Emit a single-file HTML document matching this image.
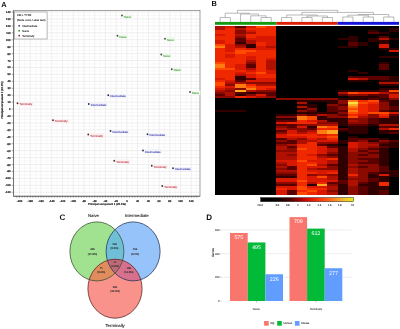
<!DOCTYPE html>
<html><head><meta charset="utf-8"><title>Figure</title><style>html,body{margin:0;padding:0;background:#fff;width:400px;height:329px;overflow:hidden}svg text{font-family:"Liberation Sans",sans-serif;text-rendering:geometricPrecision}</style></head><body>
<svg width="400" height="329" viewBox="0 0 400 329" style="filter:blur(0.4px);display:block;font-family:'Liberation Sans', sans-serif"><text x="1.20" y="6.60" font-size="7.4" fill="#111" text-anchor="start" font-weight="bold" >A</text>
<g stroke="#f3f3f3" stroke-width="0.6"><line x1="13.5" y1="195.72" x2="200.0" y2="195.72"/><line x1="13.5" y1="188.79" x2="200.0" y2="188.79"/><line x1="13.5" y1="181.86" x2="200.0" y2="181.86"/><line x1="13.5" y1="174.92" x2="200.0" y2="174.92"/><line x1="13.5" y1="167.99" x2="200.0" y2="167.99"/><line x1="13.5" y1="161.06" x2="200.0" y2="161.06"/><line x1="13.5" y1="154.12" x2="200.0" y2="154.12"/><line x1="13.5" y1="147.19" x2="200.0" y2="147.19"/><line x1="13.5" y1="140.26" x2="200.0" y2="140.26"/><line x1="13.5" y1="133.33" x2="200.0" y2="133.33"/><line x1="13.5" y1="126.39" x2="200.0" y2="126.39"/><line x1="13.5" y1="119.46" x2="200.0" y2="119.46"/><line x1="13.5" y1="112.53" x2="200.0" y2="112.53"/><line x1="13.5" y1="105.59" x2="200.0" y2="105.59"/><line x1="13.5" y1="98.66" x2="200.0" y2="98.66"/><line x1="13.5" y1="91.73" x2="200.0" y2="91.73"/><line x1="13.5" y1="84.79" x2="200.0" y2="84.79"/><line x1="13.5" y1="77.86" x2="200.0" y2="77.86"/><line x1="13.5" y1="70.93" x2="200.0" y2="70.93"/><line x1="13.5" y1="64.00" x2="200.0" y2="64.00"/><line x1="13.5" y1="57.06" x2="200.0" y2="57.06"/><line x1="13.5" y1="50.13" x2="200.0" y2="50.13"/><line x1="13.5" y1="43.20" x2="200.0" y2="43.20"/><line x1="13.5" y1="36.26" x2="200.0" y2="36.26"/><line x1="13.5" y1="29.33" x2="200.0" y2="29.33"/><line x1="13.5" y1="22.40" x2="200.0" y2="22.40"/><line x1="13.5" y1="15.46" x2="200.0" y2="15.46"/><line x1="14.13" y1="10.5" x2="14.13" y2="196.25"/><line x1="24.87" y1="10.5" x2="24.87" y2="196.25"/><line x1="35.61" y1="10.5" x2="35.61" y2="196.25"/><line x1="46.35" y1="10.5" x2="46.35" y2="196.25"/><line x1="57.09" y1="10.5" x2="57.09" y2="196.25"/><line x1="67.83" y1="10.5" x2="67.83" y2="196.25"/><line x1="78.57" y1="10.5" x2="78.57" y2="196.25"/><line x1="89.31" y1="10.5" x2="89.31" y2="196.25"/><line x1="100.05" y1="10.5" x2="100.05" y2="196.25"/><line x1="110.79" y1="10.5" x2="110.79" y2="196.25"/><line x1="121.53" y1="10.5" x2="121.53" y2="196.25"/><line x1="132.27" y1="10.5" x2="132.27" y2="196.25"/><line x1="143.01" y1="10.5" x2="143.01" y2="196.25"/><line x1="153.75" y1="10.5" x2="153.75" y2="196.25"/><line x1="164.49" y1="10.5" x2="164.49" y2="196.25"/><line x1="175.23" y1="10.5" x2="175.23" y2="196.25"/><line x1="185.97" y1="10.5" x2="185.97" y2="196.25"/><line x1="196.71" y1="10.5" x2="196.71" y2="196.25"/></g>
<g stroke="#e4e4e4" stroke-width="0.6"><line x1="13.5" y1="192.26" x2="200.0" y2="192.26"/><line x1="13.5" y1="185.32" x2="200.0" y2="185.32"/><line x1="13.5" y1="178.39" x2="200.0" y2="178.39"/><line x1="13.5" y1="171.46" x2="200.0" y2="171.46"/><line x1="13.5" y1="164.52" x2="200.0" y2="164.52"/><line x1="13.5" y1="157.59" x2="200.0" y2="157.59"/><line x1="13.5" y1="150.66" x2="200.0" y2="150.66"/><line x1="13.5" y1="143.72" x2="200.0" y2="143.72"/><line x1="13.5" y1="136.79" x2="200.0" y2="136.79"/><line x1="13.5" y1="129.86" x2="200.0" y2="129.86"/><line x1="13.5" y1="122.93" x2="200.0" y2="122.93"/><line x1="13.5" y1="115.99" x2="200.0" y2="115.99"/><line x1="13.5" y1="109.06" x2="200.0" y2="109.06"/><line x1="13.5" y1="102.13" x2="200.0" y2="102.13"/><line x1="13.5" y1="95.19" x2="200.0" y2="95.19"/><line x1="13.5" y1="88.26" x2="200.0" y2="88.26"/><line x1="13.5" y1="81.33" x2="200.0" y2="81.33"/><line x1="13.5" y1="74.40" x2="200.0" y2="74.40"/><line x1="13.5" y1="67.46" x2="200.0" y2="67.46"/><line x1="13.5" y1="60.53" x2="200.0" y2="60.53"/><line x1="13.5" y1="53.60" x2="200.0" y2="53.60"/><line x1="13.5" y1="46.66" x2="200.0" y2="46.66"/><line x1="13.5" y1="39.73" x2="200.0" y2="39.73"/><line x1="13.5" y1="32.80" x2="200.0" y2="32.80"/><line x1="13.5" y1="25.86" x2="200.0" y2="25.86"/><line x1="13.5" y1="18.93" x2="200.0" y2="18.93"/><line x1="13.5" y1="12.00" x2="200.0" y2="12.00"/><line x1="19.50" y1="10.5" x2="19.50" y2="196.25"/><line x1="30.24" y1="10.5" x2="30.24" y2="196.25"/><line x1="40.98" y1="10.5" x2="40.98" y2="196.25"/><line x1="51.72" y1="10.5" x2="51.72" y2="196.25"/><line x1="62.46" y1="10.5" x2="62.46" y2="196.25"/><line x1="73.20" y1="10.5" x2="73.20" y2="196.25"/><line x1="83.94" y1="10.5" x2="83.94" y2="196.25"/><line x1="94.68" y1="10.5" x2="94.68" y2="196.25"/><line x1="105.42" y1="10.5" x2="105.42" y2="196.25"/><line x1="116.16" y1="10.5" x2="116.16" y2="196.25"/><line x1="126.90" y1="10.5" x2="126.90" y2="196.25"/><line x1="137.64" y1="10.5" x2="137.64" y2="196.25"/><line x1="148.38" y1="10.5" x2="148.38" y2="196.25"/><line x1="159.12" y1="10.5" x2="159.12" y2="196.25"/><line x1="169.86" y1="10.5" x2="169.86" y2="196.25"/><line x1="180.60" y1="10.5" x2="180.60" y2="196.25"/><line x1="191.34" y1="10.5" x2="191.34" y2="196.25"/></g>
<rect x="13.5" y="10.5" width="186.5" height="185.75" fill="none" stroke="#8a8a8a" stroke-width="0.8"/>
<line x1="13.5" y1="10.5" x2="13.5" y2="196.25" stroke="#6a6a6a" stroke-width="0.8"/>
<line x1="13.5" y1="196.25" x2="200.0" y2="196.25" stroke="#5a5a5a" stroke-width="0.8"/>
<g stroke="#555" stroke-width="0.5"><line x1="11.7" y1="192.26" x2="13.5" y2="192.26"/><line x1="11.7" y1="185.32" x2="13.5" y2="185.32"/><line x1="11.7" y1="178.39" x2="13.5" y2="178.39"/><line x1="11.7" y1="171.46" x2="13.5" y2="171.46"/><line x1="11.7" y1="164.52" x2="13.5" y2="164.52"/><line x1="11.7" y1="157.59" x2="13.5" y2="157.59"/><line x1="11.7" y1="150.66" x2="13.5" y2="150.66"/><line x1="11.7" y1="143.72" x2="13.5" y2="143.72"/><line x1="11.7" y1="136.79" x2="13.5" y2="136.79"/><line x1="11.7" y1="129.86" x2="13.5" y2="129.86"/><line x1="11.7" y1="122.93" x2="13.5" y2="122.93"/><line x1="11.7" y1="115.99" x2="13.5" y2="115.99"/><line x1="11.7" y1="109.06" x2="13.5" y2="109.06"/><line x1="11.7" y1="102.13" x2="13.5" y2="102.13"/><line x1="11.7" y1="95.19" x2="13.5" y2="95.19"/><line x1="11.7" y1="88.26" x2="13.5" y2="88.26"/><line x1="11.7" y1="81.33" x2="13.5" y2="81.33"/><line x1="11.7" y1="74.40" x2="13.5" y2="74.40"/><line x1="11.7" y1="67.46" x2="13.5" y2="67.46"/><line x1="11.7" y1="60.53" x2="13.5" y2="60.53"/><line x1="11.7" y1="53.60" x2="13.5" y2="53.60"/><line x1="11.7" y1="46.66" x2="13.5" y2="46.66"/><line x1="11.7" y1="39.73" x2="13.5" y2="39.73"/><line x1="11.7" y1="32.80" x2="13.5" y2="32.80"/><line x1="11.7" y1="25.86" x2="13.5" y2="25.86"/><line x1="11.7" y1="18.93" x2="13.5" y2="18.93"/><line x1="11.7" y1="12.00" x2="13.5" y2="12.00"/><line x1="16.81" y1="196.25" x2="16.81" y2="197.85"/><line x1="19.50" y1="196.25" x2="19.50" y2="197.85"/><line x1="22.19" y1="196.25" x2="22.19" y2="197.85"/><line x1="24.87" y1="196.25" x2="24.87" y2="197.85"/><line x1="27.55" y1="196.25" x2="27.55" y2="197.85"/><line x1="30.24" y1="196.25" x2="30.24" y2="197.85"/><line x1="32.92" y1="196.25" x2="32.92" y2="197.85"/><line x1="35.61" y1="196.25" x2="35.61" y2="197.85"/><line x1="38.30" y1="196.25" x2="38.30" y2="197.85"/><line x1="40.98" y1="196.25" x2="40.98" y2="197.85"/><line x1="43.67" y1="196.25" x2="43.67" y2="197.85"/><line x1="46.35" y1="196.25" x2="46.35" y2="197.85"/><line x1="49.03" y1="196.25" x2="49.03" y2="197.85"/><line x1="51.72" y1="196.25" x2="51.72" y2="197.85"/><line x1="54.41" y1="196.25" x2="54.41" y2="197.85"/><line x1="57.09" y1="196.25" x2="57.09" y2="197.85"/><line x1="59.78" y1="196.25" x2="59.78" y2="197.85"/><line x1="62.46" y1="196.25" x2="62.46" y2="197.85"/><line x1="65.15" y1="196.25" x2="65.15" y2="197.85"/><line x1="67.83" y1="196.25" x2="67.83" y2="197.85"/><line x1="70.52" y1="196.25" x2="70.52" y2="197.85"/><line x1="73.20" y1="196.25" x2="73.20" y2="197.85"/><line x1="75.89" y1="196.25" x2="75.89" y2="197.85"/><line x1="78.57" y1="196.25" x2="78.57" y2="197.85"/><line x1="81.25" y1="196.25" x2="81.25" y2="197.85"/><line x1="83.94" y1="196.25" x2="83.94" y2="197.85"/><line x1="86.62" y1="196.25" x2="86.62" y2="197.85"/><line x1="89.31" y1="196.25" x2="89.31" y2="197.85"/><line x1="92.00" y1="196.25" x2="92.00" y2="197.85"/><line x1="94.68" y1="196.25" x2="94.68" y2="197.85"/><line x1="97.37" y1="196.25" x2="97.37" y2="197.85"/><line x1="100.05" y1="196.25" x2="100.05" y2="197.85"/><line x1="102.73" y1="196.25" x2="102.73" y2="197.85"/><line x1="105.42" y1="196.25" x2="105.42" y2="197.85"/><line x1="108.11" y1="196.25" x2="108.11" y2="197.85"/><line x1="110.79" y1="196.25" x2="110.79" y2="197.85"/><line x1="113.48" y1="196.25" x2="113.48" y2="197.85"/><line x1="116.16" y1="196.25" x2="116.16" y2="197.85"/><line x1="118.84" y1="196.25" x2="118.84" y2="197.85"/><line x1="121.53" y1="196.25" x2="121.53" y2="197.85"/><line x1="124.22" y1="196.25" x2="124.22" y2="197.85"/><line x1="126.90" y1="196.25" x2="126.90" y2="197.85"/><line x1="129.59" y1="196.25" x2="129.59" y2="197.85"/><line x1="132.27" y1="196.25" x2="132.27" y2="197.85"/><line x1="134.96" y1="196.25" x2="134.96" y2="197.85"/><line x1="137.64" y1="196.25" x2="137.64" y2="197.85"/><line x1="140.33" y1="196.25" x2="140.33" y2="197.85"/><line x1="143.01" y1="196.25" x2="143.01" y2="197.85"/><line x1="145.69" y1="196.25" x2="145.69" y2="197.85"/><line x1="148.38" y1="196.25" x2="148.38" y2="197.85"/><line x1="151.06" y1="196.25" x2="151.06" y2="197.85"/><line x1="153.75" y1="196.25" x2="153.75" y2="197.85"/><line x1="156.44" y1="196.25" x2="156.44" y2="197.85"/><line x1="159.12" y1="196.25" x2="159.12" y2="197.85"/><line x1="161.81" y1="196.25" x2="161.81" y2="197.85"/><line x1="164.49" y1="196.25" x2="164.49" y2="197.85"/><line x1="167.18" y1="196.25" x2="167.18" y2="197.85"/><line x1="169.86" y1="196.25" x2="169.86" y2="197.85"/><line x1="172.55" y1="196.25" x2="172.55" y2="197.85"/><line x1="175.23" y1="196.25" x2="175.23" y2="197.85"/><line x1="177.92" y1="196.25" x2="177.92" y2="197.85"/><line x1="180.60" y1="196.25" x2="180.60" y2="197.85"/><line x1="183.29" y1="196.25" x2="183.29" y2="197.85"/><line x1="185.97" y1="196.25" x2="185.97" y2="197.85"/><line x1="188.66" y1="196.25" x2="188.66" y2="197.85"/><line x1="191.34" y1="196.25" x2="191.34" y2="197.85"/><line x1="194.03" y1="196.25" x2="194.03" y2="197.85"/><line x1="196.71" y1="196.25" x2="196.71" y2="197.85"/></g>
<text x="10.60" y="193.26" font-size="2.7" fill="#2a2a2a" text-anchor="end" font-weight="normal" stroke="#2a2a2a" stroke-width="0.22" >-120</text><text x="10.60" y="186.32" font-size="2.7" fill="#2a2a2a" text-anchor="end" font-weight="normal" stroke="#2a2a2a" stroke-width="0.22" >-110</text><text x="10.60" y="179.39" font-size="2.7" fill="#2a2a2a" text-anchor="end" font-weight="normal" stroke="#2a2a2a" stroke-width="0.22" >-100</text><text x="10.60" y="172.46" font-size="2.7" fill="#2a2a2a" text-anchor="end" font-weight="normal" stroke="#2a2a2a" stroke-width="0.22" >-90</text><text x="10.60" y="165.52" font-size="2.7" fill="#2a2a2a" text-anchor="end" font-weight="normal" stroke="#2a2a2a" stroke-width="0.22" >-80</text><text x="10.60" y="158.59" font-size="2.7" fill="#2a2a2a" text-anchor="end" font-weight="normal" stroke="#2a2a2a" stroke-width="0.22" >-70</text><text x="10.60" y="151.66" font-size="2.7" fill="#2a2a2a" text-anchor="end" font-weight="normal" stroke="#2a2a2a" stroke-width="0.22" >-60</text><text x="10.60" y="144.72" font-size="2.7" fill="#2a2a2a" text-anchor="end" font-weight="normal" stroke="#2a2a2a" stroke-width="0.22" >-50</text><text x="10.60" y="137.79" font-size="2.7" fill="#2a2a2a" text-anchor="end" font-weight="normal" stroke="#2a2a2a" stroke-width="0.22" >-40</text><text x="10.60" y="130.86" font-size="2.7" fill="#2a2a2a" text-anchor="end" font-weight="normal" stroke="#2a2a2a" stroke-width="0.22" >-30</text><text x="10.60" y="123.93" font-size="2.7" fill="#2a2a2a" text-anchor="end" font-weight="normal" stroke="#2a2a2a" stroke-width="0.22" >-20</text><text x="10.60" y="116.99" font-size="2.7" fill="#2a2a2a" text-anchor="end" font-weight="normal" stroke="#2a2a2a" stroke-width="0.22" >-10</text><text x="10.60" y="110.06" font-size="2.7" fill="#2a2a2a" text-anchor="end" font-weight="normal" stroke="#2a2a2a" stroke-width="0.22" >0</text><text x="10.60" y="103.13" font-size="2.7" fill="#2a2a2a" text-anchor="end" font-weight="normal" stroke="#2a2a2a" stroke-width="0.22" >10</text><text x="10.60" y="96.19" font-size="2.7" fill="#2a2a2a" text-anchor="end" font-weight="normal" stroke="#2a2a2a" stroke-width="0.22" >20</text><text x="10.60" y="89.26" font-size="2.7" fill="#2a2a2a" text-anchor="end" font-weight="normal" stroke="#2a2a2a" stroke-width="0.22" >30</text><text x="10.60" y="82.33" font-size="2.7" fill="#2a2a2a" text-anchor="end" font-weight="normal" stroke="#2a2a2a" stroke-width="0.22" >40</text><text x="10.60" y="75.40" font-size="2.7" fill="#2a2a2a" text-anchor="end" font-weight="normal" stroke="#2a2a2a" stroke-width="0.22" >50</text><text x="10.60" y="68.46" font-size="2.7" fill="#2a2a2a" text-anchor="end" font-weight="normal" stroke="#2a2a2a" stroke-width="0.22" >60</text><text x="10.60" y="61.53" font-size="2.7" fill="#2a2a2a" text-anchor="end" font-weight="normal" stroke="#2a2a2a" stroke-width="0.22" >70</text><text x="10.60" y="54.60" font-size="2.7" fill="#2a2a2a" text-anchor="end" font-weight="normal" stroke="#2a2a2a" stroke-width="0.22" >80</text><text x="10.60" y="47.66" font-size="2.7" fill="#2a2a2a" text-anchor="end" font-weight="normal" stroke="#2a2a2a" stroke-width="0.22" >90</text><text x="10.60" y="40.73" font-size="2.7" fill="#2a2a2a" text-anchor="end" font-weight="normal" stroke="#2a2a2a" stroke-width="0.22" >100</text><text x="10.60" y="33.80" font-size="2.7" fill="#2a2a2a" text-anchor="end" font-weight="normal" stroke="#2a2a2a" stroke-width="0.22" >110</text><text x="10.60" y="26.86" font-size="2.7" fill="#2a2a2a" text-anchor="end" font-weight="normal" stroke="#2a2a2a" stroke-width="0.22" >120</text><text x="10.60" y="19.93" font-size="2.7" fill="#2a2a2a" text-anchor="end" font-weight="normal" stroke="#2a2a2a" stroke-width="0.22" >130</text><text x="10.60" y="13.00" font-size="2.7" fill="#2a2a2a" text-anchor="end" font-weight="normal" stroke="#2a2a2a" stroke-width="0.22" >140</text><text x="19.50" y="201.80" font-size="2.7" fill="#2a2a2a" text-anchor="middle" font-weight="normal" stroke="#2a2a2a" stroke-width="0.22" >-200</text><text x="30.24" y="201.80" font-size="2.7" fill="#2a2a2a" text-anchor="middle" font-weight="normal" stroke="#2a2a2a" stroke-width="0.22" >-180</text><text x="40.98" y="201.80" font-size="2.7" fill="#2a2a2a" text-anchor="middle" font-weight="normal" stroke="#2a2a2a" stroke-width="0.22" >-160</text><text x="51.72" y="201.80" font-size="2.7" fill="#2a2a2a" text-anchor="middle" font-weight="normal" stroke="#2a2a2a" stroke-width="0.22" >-140</text><text x="62.46" y="201.80" font-size="2.7" fill="#2a2a2a" text-anchor="middle" font-weight="normal" stroke="#2a2a2a" stroke-width="0.22" >-120</text><text x="73.20" y="201.80" font-size="2.7" fill="#2a2a2a" text-anchor="middle" font-weight="normal" stroke="#2a2a2a" stroke-width="0.22" >-100</text><text x="83.94" y="201.80" font-size="2.7" fill="#2a2a2a" text-anchor="middle" font-weight="normal" stroke="#2a2a2a" stroke-width="0.22" >-80</text><text x="94.68" y="201.80" font-size="2.7" fill="#2a2a2a" text-anchor="middle" font-weight="normal" stroke="#2a2a2a" stroke-width="0.22" >-60</text><text x="105.42" y="201.80" font-size="2.7" fill="#2a2a2a" text-anchor="middle" font-weight="normal" stroke="#2a2a2a" stroke-width="0.22" >-40</text><text x="116.16" y="201.80" font-size="2.7" fill="#2a2a2a" text-anchor="middle" font-weight="normal" stroke="#2a2a2a" stroke-width="0.22" >-20</text><text x="126.90" y="201.80" font-size="2.7" fill="#2a2a2a" text-anchor="middle" font-weight="normal" stroke="#2a2a2a" stroke-width="0.22" >0</text><text x="137.64" y="201.80" font-size="2.7" fill="#2a2a2a" text-anchor="middle" font-weight="normal" stroke="#2a2a2a" stroke-width="0.22" >20</text><text x="148.38" y="201.80" font-size="2.7" fill="#2a2a2a" text-anchor="middle" font-weight="normal" stroke="#2a2a2a" stroke-width="0.22" >40</text><text x="159.12" y="201.80" font-size="2.7" fill="#2a2a2a" text-anchor="middle" font-weight="normal" stroke="#2a2a2a" stroke-width="0.22" >60</text><text x="169.86" y="201.80" font-size="2.7" fill="#2a2a2a" text-anchor="middle" font-weight="normal" stroke="#2a2a2a" stroke-width="0.22" >80</text><text x="180.60" y="201.80" font-size="2.7" fill="#2a2a2a" text-anchor="middle" font-weight="normal" stroke="#2a2a2a" stroke-width="0.22" >100</text><text x="191.34" y="201.80" font-size="2.7" fill="#2a2a2a" text-anchor="middle" font-weight="normal" stroke="#2a2a2a" stroke-width="0.22" >120</text>
<text x="107.00" y="205.40" font-size="2.75" fill="#222" text-anchor="middle" font-weight="normal" stroke="#222" stroke-width="0.18" >Principal component 1 (25.1%)</text>
<text x="0" y="0" font-size="2.75" fill="#222" stroke="#222" stroke-width="0.18" text-anchor="middle" transform="translate(2.5,100.1) rotate(-90)">Principal component 2 (15.2%)</text>
<rect x="14.6" y="12.0" width="32.5" height="27.0" fill="#fff" stroke="#9a9a9a" stroke-width="0.7"/>
<text x="16.90" y="16.30" font-size="2.7" fill="#333" text-anchor="start" font-weight="normal" stroke="#333" stroke-width="0.1" >CELL TYPE</text>
<text x="16.90" y="21.00" font-size="2.75" fill="#333" text-anchor="start" font-weight="normal" stroke="#333" stroke-width="0.1" >(Node color, Label text)</text>
<circle cx="19.2" cy="25.80" r="0.9" fill="#2b2b8a"/>
<text x="22.20" y="26.80" font-size="2.7" fill="#333" text-anchor="start" font-weight="normal" stroke="#333" stroke-width="0.1" >Intermediate</text>
<circle cx="19.2" cy="30.75" r="0.9" fill="#3a8a3a"/>
<text x="22.20" y="31.75" font-size="2.7" fill="#333" text-anchor="start" font-weight="normal" stroke="#333" stroke-width="0.1" >Naive</text>
<circle cx="19.2" cy="35.70" r="0.9" fill="#8a2b2b"/>
<text x="22.20" y="36.70" font-size="2.7" fill="#333" text-anchor="start" font-weight="normal" stroke="#333" stroke-width="0.1" >Terminally</text>
<rect x="123.20" y="14.20" width="9.20" height="4.0" fill="#eef9ea"/>
<circle cx="122" cy="15.5" r="0.9" fill="#3a4a3a"/>
<text x="124.00" y="17.50" font-size="2.8" fill="#62a85c" text-anchor="start" font-weight="normal" stroke="#62a85c" stroke-width="0.1" >Naive</text>
<rect x="118.70" y="34.45" width="9.20" height="4.0" fill="#eef9ea"/>
<circle cx="117.5" cy="35.75" r="0.9" fill="#3a4a3a"/>
<text x="119.50" y="37.75" font-size="2.8" fill="#62a85c" text-anchor="start" font-weight="normal" stroke="#62a85c" stroke-width="0.1" >Naive</text>
<rect x="166.20" y="37.45" width="9.20" height="4.0" fill="#eef9ea"/>
<circle cx="165" cy="38.75" r="0.9" fill="#3a4a3a"/>
<text x="167.00" y="40.75" font-size="2.8" fill="#62a85c" text-anchor="start" font-weight="normal" stroke="#62a85c" stroke-width="0.1" >Naive</text>
<rect x="162.45" y="53.20" width="9.20" height="4.0" fill="#eef9ea"/>
<circle cx="161.25" cy="54.5" r="0.9" fill="#3a4a3a"/>
<text x="163.25" y="56.50" font-size="2.8" fill="#62a85c" text-anchor="start" font-weight="normal" stroke="#62a85c" stroke-width="0.1" >Naive</text>
<rect x="172.95" y="67.95" width="9.20" height="4.0" fill="#eef9ea"/>
<circle cx="171.75" cy="69.25" r="0.9" fill="#3a4a3a"/>
<text x="173.75" y="71.25" font-size="2.8" fill="#62a85c" text-anchor="start" font-weight="normal" stroke="#62a85c" stroke-width="0.1" >Naive</text>
<rect x="191.20" y="90.70" width="9.20" height="4.0" fill="#eef9ea"/>
<circle cx="190" cy="92" r="0.9" fill="#3a4a3a"/>
<text x="192.00" y="94.00" font-size="2.8" fill="#62a85c" text-anchor="start" font-weight="normal" stroke="#62a85c" stroke-width="0.1" >Naive</text>
<rect x="109.45" y="93.95" width="17.60" height="4.0" fill="#f1f1fb"/>
<circle cx="108.25" cy="95.25" r="0.9" fill="#2a2a50"/>
<text x="110.25" y="97.25" font-size="2.8" fill="#4e4eb4" text-anchor="start" font-weight="normal" stroke="#4e4eb4" stroke-width="0.1" >Intermediate</text>
<rect x="89.95" y="102.70" width="17.60" height="4.0" fill="#f1f1fb"/>
<circle cx="88.75" cy="104" r="0.9" fill="#2a2a50"/>
<text x="90.75" y="106.00" font-size="2.8" fill="#4e4eb4" text-anchor="start" font-weight="normal" stroke="#4e4eb4" stroke-width="0.1" >Intermediate</text>
<rect x="111.70" y="129.70" width="17.60" height="4.0" fill="#f1f1fb"/>
<circle cx="110.5" cy="131" r="0.9" fill="#2a2a50"/>
<text x="112.50" y="133.00" font-size="2.8" fill="#4e4eb4" text-anchor="start" font-weight="normal" stroke="#4e4eb4" stroke-width="0.1" >Intermediate</text>
<rect x="148.70" y="132.95" width="17.60" height="4.0" fill="#f1f1fb"/>
<circle cx="147.5" cy="134.25" r="0.9" fill="#2a2a50"/>
<text x="149.50" y="136.25" font-size="2.8" fill="#4e4eb4" text-anchor="start" font-weight="normal" stroke="#4e4eb4" stroke-width="0.1" >Intermediate</text>
<rect x="144.20" y="149.20" width="17.60" height="4.0" fill="#f1f1fb"/>
<circle cx="143" cy="150.5" r="0.9" fill="#2a2a50"/>
<text x="145.00" y="152.50" font-size="2.8" fill="#4e4eb4" text-anchor="start" font-weight="normal" stroke="#4e4eb4" stroke-width="0.1" >Intermediate</text>
<rect x="174.20" y="166.95" width="17.60" height="4.0" fill="#f1f1fb"/>
<circle cx="173" cy="168.25" r="0.9" fill="#2a2a50"/>
<text x="175.00" y="170.25" font-size="2.8" fill="#4e4eb4" text-anchor="start" font-weight="normal" stroke="#4e4eb4" stroke-width="0.1" >Intermediate</text>
<rect x="18.70" y="101.95" width="14.80" height="4.0" fill="#fcefef"/>
<circle cx="17.5" cy="103.25" r="0.9" fill="#502a2a"/>
<text x="19.50" y="105.25" font-size="2.8" fill="#c4505e" text-anchor="start" font-weight="normal" stroke="#c4505e" stroke-width="0.1" >Terminally</text>
<rect x="54.20" y="118.95" width="14.80" height="4.0" fill="#fcefef"/>
<circle cx="53" cy="120.25" r="0.9" fill="#502a2a"/>
<text x="55.00" y="122.25" font-size="2.8" fill="#c4505e" text-anchor="start" font-weight="normal" stroke="#c4505e" stroke-width="0.1" >Terminally</text>
<rect x="89.45" y="133.20" width="14.80" height="4.0" fill="#fcefef"/>
<circle cx="88.25" cy="134.5" r="0.9" fill="#502a2a"/>
<text x="90.25" y="136.50" font-size="2.8" fill="#c4505e" text-anchor="start" font-weight="normal" stroke="#c4505e" stroke-width="0.1" >Terminally</text>
<rect x="115.45" y="159.45" width="14.80" height="4.0" fill="#fcefef"/>
<circle cx="114.25" cy="160.75" r="0.9" fill="#502a2a"/>
<text x="116.25" y="162.75" font-size="2.8" fill="#c4505e" text-anchor="start" font-weight="normal" stroke="#c4505e" stroke-width="0.1" >Terminally</text>
<rect x="152.95" y="164.45" width="14.80" height="4.0" fill="#fcefef"/>
<circle cx="151.75" cy="165.75" r="0.9" fill="#502a2a"/>
<text x="153.75" y="167.75" font-size="2.8" fill="#c4505e" text-anchor="start" font-weight="normal" stroke="#c4505e" stroke-width="0.1" >Terminally</text>
<rect x="163.45" y="184.70" width="14.80" height="4.0" fill="#fcefef"/>
<circle cx="162.25" cy="186" r="0.9" fill="#502a2a"/>
<text x="164.25" y="188.00" font-size="2.8" fill="#c4505e" text-anchor="start" font-weight="normal" stroke="#c4505e" stroke-width="0.1" >Terminally</text>
<text x="211.50" y="6.10" font-size="7.4" fill="#111" text-anchor="start" font-weight="bold" >B</text>
<g stroke="#8c8c8c" stroke-width="0.6" fill="none"><line x1="220.11" y1="17.50" x2="220.11" y2="21.80"/><line x1="230.33" y1="17.50" x2="230.33" y2="21.80"/><line x1="220.11" y1="17.50" x2="230.33" y2="17.50"/><line x1="261.00" y1="17.50" x2="261.00" y2="21.80"/><line x1="271.22" y1="17.50" x2="271.22" y2="21.80"/><line x1="261.00" y1="17.50" x2="271.22" y2="17.50"/><line x1="250.78" y1="15.80" x2="250.78" y2="21.80"/><line x1="266.11" y1="15.80" x2="266.11" y2="17.50"/><line x1="250.78" y1="15.80" x2="266.11" y2="15.80"/><line x1="240.56" y1="14.00" x2="240.56" y2="21.80"/><line x1="258.44" y1="14.00" x2="258.44" y2="15.80"/><line x1="240.56" y1="14.00" x2="258.44" y2="14.00"/><line x1="225.22" y1="13.20" x2="225.22" y2="17.50"/><line x1="249.50" y1="13.20" x2="249.50" y2="14.00"/><line x1="225.22" y1="13.20" x2="249.50" y2="13.20"/><line x1="281.44" y1="17.50" x2="281.44" y2="21.80"/><line x1="291.67" y1="17.50" x2="291.67" y2="21.80"/><line x1="281.44" y1="17.50" x2="291.67" y2="17.50"/><line x1="301.89" y1="17.50" x2="301.89" y2="21.80"/><line x1="312.11" y1="17.50" x2="312.11" y2="21.80"/><line x1="301.89" y1="17.50" x2="312.11" y2="17.50"/><line x1="322.33" y1="17.50" x2="322.33" y2="21.80"/><line x1="332.56" y1="17.50" x2="332.56" y2="21.80"/><line x1="322.33" y1="17.50" x2="332.56" y2="17.50"/><line x1="307.00" y1="16.00" x2="307.00" y2="17.50"/><line x1="327.44" y1="16.00" x2="327.44" y2="17.50"/><line x1="307.00" y1="16.00" x2="327.44" y2="16.00"/><line x1="286.56" y1="15.00" x2="286.56" y2="17.50"/><line x1="317.22" y1="15.00" x2="317.22" y2="16.00"/><line x1="286.56" y1="15.00" x2="317.22" y2="15.00"/><line x1="342.78" y1="17.00" x2="342.78" y2="21.80"/><line x1="353.00" y1="17.00" x2="353.00" y2="21.80"/><line x1="342.78" y1="17.00" x2="353.00" y2="17.00"/><line x1="363.22" y1="17.00" x2="363.22" y2="21.80"/><line x1="373.44" y1="17.00" x2="373.44" y2="21.80"/><line x1="363.22" y1="17.00" x2="373.44" y2="17.00"/><line x1="383.67" y1="17.00" x2="383.67" y2="21.80"/><line x1="393.89" y1="17.00" x2="393.89" y2="21.80"/><line x1="383.67" y1="17.00" x2="393.89" y2="17.00"/><line x1="347.89" y1="15.20" x2="347.89" y2="17.00"/><line x1="368.33" y1="15.20" x2="368.33" y2="17.00"/><line x1="347.89" y1="15.20" x2="368.33" y2="15.20"/><line x1="358.11" y1="14.50" x2="358.11" y2="15.20"/><line x1="388.78" y1="14.50" x2="388.78" y2="17.00"/><line x1="358.11" y1="14.50" x2="388.78" y2="14.50"/><line x1="301.89" y1="12.40" x2="301.89" y2="15.00"/><line x1="373.44" y1="12.40" x2="373.44" y2="14.50"/><line x1="301.89" y1="12.40" x2="373.44" y2="12.40"/><line x1="237.36" y1="10.30" x2="237.36" y2="13.20"/><line x1="337.67" y1="10.30" x2="337.67" y2="12.40"/><line x1="237.36" y1="10.30" x2="337.67" y2="10.30"/></g>
<rect x="215.0" y="21.9" width="61.33" height="2.9" fill="#169a16"/>
<rect x="276.33" y="21.9" width="61.33" height="2.9" fill="#dc1e0a"/>
<rect x="337.67" y="21.9" width="61.33" height="2.9" fill="#1414dc"/>
<g shape-rendering="crispEdges"><rect x="215.0" y="26.0" width="184.0" height="168.5" fill="#000"/><rect x="215.00" y="26.00" width="10.27" height="2.06" fill="#b01000"/><rect x="225.22" y="26.00" width="10.27" height="2.06" fill="#d81800"/><rect x="235.44" y="26.00" width="10.27" height="2.06" fill="#5a0000"/><rect x="245.67" y="26.00" width="10.27" height="2.06" fill="#d81800"/><rect x="255.89" y="26.00" width="10.27" height="2.06" fill="#ff4a00"/><rect x="266.11" y="26.00" width="10.27" height="2.06" fill="#f02800"/><rect x="215.00" y="28.01" width="10.27" height="2.06" fill="#b01000"/><rect x="225.22" y="28.01" width="10.27" height="2.06" fill="#f02800"/><rect x="235.44" y="28.01" width="10.27" height="2.06" fill="#b01000"/><rect x="245.67" y="28.01" width="10.27" height="2.06" fill="#f02800"/><rect x="255.89" y="28.01" width="10.27" height="2.06" fill="#f02800"/><rect x="266.11" y="28.01" width="10.27" height="2.06" fill="#f02800"/><rect x="388.78" y="28.01" width="10.27" height="2.06" fill="#300000"/><rect x="215.00" y="30.01" width="10.27" height="2.06" fill="#f02800"/><rect x="225.22" y="30.01" width="10.27" height="2.06" fill="#f02800"/><rect x="235.44" y="30.01" width="10.27" height="2.06" fill="#8a0a00"/><rect x="245.67" y="30.01" width="10.27" height="2.06" fill="#d81800"/><rect x="255.89" y="30.01" width="10.27" height="2.06" fill="#f02800"/><rect x="266.11" y="30.01" width="10.27" height="2.06" fill="#f02800"/><rect x="368.33" y="30.01" width="10.27" height="2.06" fill="#300000"/><rect x="388.78" y="30.01" width="10.27" height="2.06" fill="#300000"/><rect x="215.00" y="32.02" width="10.27" height="2.06" fill="#f02800"/><rect x="225.22" y="32.02" width="10.27" height="2.06" fill="#f02800"/><rect x="235.44" y="32.02" width="10.27" height="2.06" fill="#8a0a00"/><rect x="245.67" y="32.02" width="10.27" height="2.06" fill="#b01000"/><rect x="255.89" y="32.02" width="10.27" height="2.06" fill="#f02800"/><rect x="266.11" y="32.02" width="10.27" height="2.06" fill="#f02800"/><rect x="368.33" y="32.02" width="10.27" height="2.06" fill="#5a0000"/><rect x="378.56" y="32.02" width="10.27" height="2.06" fill="#300000"/><rect x="215.00" y="34.02" width="10.27" height="2.06" fill="#d81800"/><rect x="225.22" y="34.02" width="10.27" height="2.06" fill="#f02800"/><rect x="235.44" y="34.02" width="10.27" height="2.06" fill="#b01000"/><rect x="245.67" y="34.02" width="10.27" height="2.06" fill="#f02800"/><rect x="255.89" y="34.02" width="10.27" height="2.06" fill="#f02800"/><rect x="266.11" y="34.02" width="10.27" height="2.06" fill="#f02800"/><rect x="215.00" y="36.03" width="10.27" height="2.06" fill="#f02800"/><rect x="225.22" y="36.03" width="10.27" height="2.06" fill="#f02800"/><rect x="235.44" y="36.03" width="10.27" height="2.06" fill="#8a0a00"/><rect x="245.67" y="36.03" width="10.27" height="2.06" fill="#f02800"/><rect x="255.89" y="36.03" width="10.27" height="2.06" fill="#d81800"/><rect x="266.11" y="36.03" width="10.27" height="2.06" fill="#d81800"/><rect x="347.89" y="36.03" width="10.27" height="2.06" fill="#300000"/><rect x="378.56" y="36.03" width="10.27" height="2.06" fill="#5a0000"/><rect x="215.00" y="38.04" width="10.27" height="2.06" fill="#f02800"/><rect x="225.22" y="38.04" width="10.27" height="2.06" fill="#f02800"/><rect x="235.44" y="38.04" width="10.27" height="2.06" fill="#5a0000"/><rect x="245.67" y="38.04" width="10.27" height="2.06" fill="#d81800"/><rect x="255.89" y="38.04" width="10.27" height="2.06" fill="#d81800"/><rect x="266.11" y="38.04" width="10.27" height="2.06" fill="#d81800"/><rect x="337.67" y="38.04" width="10.27" height="2.06" fill="#300000"/><rect x="347.89" y="38.04" width="10.27" height="2.06" fill="#300000"/><rect x="368.33" y="38.04" width="10.27" height="2.06" fill="#300000"/><rect x="378.56" y="38.04" width="10.27" height="2.06" fill="#b01000"/><rect x="388.78" y="38.04" width="10.27" height="2.06" fill="#300000"/><rect x="215.00" y="40.04" width="10.27" height="2.06" fill="#d81800"/><rect x="225.22" y="40.04" width="10.27" height="2.06" fill="#f02800"/><rect x="235.44" y="40.04" width="10.27" height="2.06" fill="#5a0000"/><rect x="245.67" y="40.04" width="10.27" height="2.06" fill="#b01000"/><rect x="255.89" y="40.04" width="10.27" height="2.06" fill="#d81800"/><rect x="266.11" y="40.04" width="10.27" height="2.06" fill="#d81800"/><rect x="347.89" y="40.04" width="10.27" height="2.06" fill="#300000"/><rect x="368.33" y="40.04" width="10.27" height="2.06" fill="#300000"/><rect x="378.56" y="40.04" width="10.27" height="2.06" fill="#300000"/><rect x="215.00" y="42.05" width="10.27" height="2.06" fill="#d81800"/><rect x="225.22" y="42.05" width="10.27" height="2.06" fill="#f02800"/><rect x="235.44" y="42.05" width="10.27" height="2.06" fill="#300000"/><rect x="245.67" y="42.05" width="10.27" height="2.06" fill="#b01000"/><rect x="255.89" y="42.05" width="10.27" height="2.06" fill="#f02800"/><rect x="266.11" y="42.05" width="10.27" height="2.06" fill="#d81800"/><rect x="347.89" y="42.05" width="10.27" height="2.06" fill="#5a0000"/><rect x="358.11" y="42.05" width="10.27" height="2.06" fill="#300000"/><rect x="378.56" y="42.05" width="10.27" height="2.06" fill="#300000"/><rect x="215.00" y="44.05" width="10.27" height="2.06" fill="#ff4a00"/><rect x="225.22" y="44.05" width="10.27" height="2.06" fill="#d81800"/><rect x="235.44" y="44.05" width="10.27" height="2.06" fill="#8a0a00"/><rect x="245.67" y="44.05" width="10.27" height="2.06" fill="#300000"/><rect x="255.89" y="44.05" width="10.27" height="2.06" fill="#f02800"/><rect x="266.11" y="44.05" width="10.27" height="2.06" fill="#d81800"/><rect x="347.89" y="44.05" width="10.27" height="2.06" fill="#5a0000"/><rect x="358.11" y="44.05" width="10.27" height="2.06" fill="#300000"/><rect x="378.56" y="44.05" width="10.27" height="2.06" fill="#d81800"/><rect x="215.00" y="46.06" width="10.27" height="2.06" fill="#ff7a10"/><rect x="225.22" y="46.06" width="10.27" height="2.06" fill="#d81800"/><rect x="235.44" y="46.06" width="10.27" height="2.06" fill="#b01000"/><rect x="245.67" y="46.06" width="10.27" height="2.06" fill="#300000"/><rect x="255.89" y="46.06" width="10.27" height="2.06" fill="#d81800"/><rect x="266.11" y="46.06" width="10.27" height="2.06" fill="#b01000"/><rect x="337.67" y="46.06" width="10.27" height="2.06" fill="#300000"/><rect x="347.89" y="46.06" width="10.27" height="2.06" fill="#300000"/><rect x="378.56" y="46.06" width="10.27" height="2.06" fill="#d81800"/><rect x="215.00" y="48.07" width="10.27" height="2.06" fill="#f02800"/><rect x="225.22" y="48.07" width="10.27" height="2.06" fill="#d81800"/><rect x="235.44" y="48.07" width="10.27" height="2.06" fill="#f02800"/><rect x="245.67" y="48.07" width="10.27" height="2.06" fill="#d81800"/><rect x="255.89" y="48.07" width="10.27" height="2.06" fill="#d81800"/><rect x="266.11" y="48.07" width="10.27" height="2.06" fill="#d81800"/><rect x="378.56" y="48.07" width="10.27" height="2.06" fill="#300000"/><rect x="388.78" y="48.07" width="10.27" height="2.06" fill="#300000"/><rect x="215.00" y="50.07" width="10.27" height="2.06" fill="#f02800"/><rect x="225.22" y="50.07" width="10.27" height="2.06" fill="#d81800"/><rect x="235.44" y="50.07" width="10.27" height="2.06" fill="#ff4a00"/><rect x="245.67" y="50.07" width="10.27" height="2.06" fill="#ff4a00"/><rect x="255.89" y="50.07" width="10.27" height="2.06" fill="#f02800"/><rect x="266.11" y="50.07" width="10.27" height="2.06" fill="#f02800"/><rect x="388.78" y="50.07" width="10.27" height="2.06" fill="#d81800"/><rect x="215.00" y="52.08" width="10.27" height="2.06" fill="#f02800"/><rect x="225.22" y="52.08" width="10.27" height="2.06" fill="#f02800"/><rect x="235.44" y="52.08" width="10.27" height="2.06" fill="#ff4a00"/><rect x="245.67" y="52.08" width="10.27" height="2.06" fill="#f02800"/><rect x="255.89" y="52.08" width="10.27" height="2.06" fill="#f02800"/><rect x="266.11" y="52.08" width="10.27" height="2.06" fill="#f02800"/><rect x="215.00" y="54.08" width="10.27" height="2.06" fill="#f02800"/><rect x="225.22" y="54.08" width="10.27" height="2.06" fill="#d81800"/><rect x="235.44" y="54.08" width="10.27" height="2.06" fill="#f02800"/><rect x="245.67" y="54.08" width="10.27" height="2.06" fill="#f02800"/><rect x="255.89" y="54.08" width="10.27" height="2.06" fill="#f02800"/><rect x="266.11" y="54.08" width="10.27" height="2.06" fill="#f02800"/><rect x="215.00" y="56.09" width="10.27" height="2.06" fill="#f02800"/><rect x="225.22" y="56.09" width="10.27" height="2.06" fill="#d81800"/><rect x="235.44" y="56.09" width="10.27" height="2.06" fill="#f02800"/><rect x="245.67" y="56.09" width="10.27" height="2.06" fill="#d81800"/><rect x="255.89" y="56.09" width="10.27" height="2.06" fill="#f02800"/><rect x="266.11" y="56.09" width="10.27" height="2.06" fill="#f02800"/><rect x="378.56" y="56.09" width="10.27" height="2.06" fill="#300000"/><rect x="388.78" y="56.09" width="10.27" height="2.06" fill="#300000"/><rect x="215.00" y="58.10" width="10.27" height="2.06" fill="#f02800"/><rect x="225.22" y="58.10" width="10.27" height="2.06" fill="#f02800"/><rect x="235.44" y="58.10" width="10.27" height="2.06" fill="#f02800"/><rect x="245.67" y="58.10" width="10.27" height="2.06" fill="#d81800"/><rect x="255.89" y="58.10" width="10.27" height="2.06" fill="#f02800"/><rect x="266.11" y="58.10" width="10.27" height="2.06" fill="#d81800"/><rect x="215.00" y="60.10" width="10.27" height="2.06" fill="#f02800"/><rect x="225.22" y="60.10" width="10.27" height="2.06" fill="#f02800"/><rect x="235.44" y="60.10" width="10.27" height="2.06" fill="#f02800"/><rect x="245.67" y="60.10" width="10.27" height="2.06" fill="#b01000"/><rect x="255.89" y="60.10" width="10.27" height="2.06" fill="#f02800"/><rect x="266.11" y="60.10" width="10.27" height="2.06" fill="#b01000"/><rect x="215.00" y="62.11" width="10.27" height="2.06" fill="#ff4a00"/><rect x="225.22" y="62.11" width="10.27" height="2.06" fill="#f02800"/><rect x="235.44" y="62.11" width="10.27" height="2.06" fill="#f02800"/><rect x="245.67" y="62.11" width="10.27" height="2.06" fill="#8a0a00"/><rect x="255.89" y="62.11" width="10.27" height="2.06" fill="#f02800"/><rect x="266.11" y="62.11" width="10.27" height="2.06" fill="#b01000"/><rect x="378.56" y="62.11" width="10.27" height="2.06" fill="#300000"/><rect x="215.00" y="64.11" width="10.27" height="2.06" fill="#ff7a10"/><rect x="225.22" y="64.11" width="10.27" height="2.06" fill="#f02800"/><rect x="235.44" y="64.11" width="10.27" height="2.06" fill="#d81800"/><rect x="245.67" y="64.11" width="10.27" height="2.06" fill="#5a0000"/><rect x="255.89" y="64.11" width="10.27" height="2.06" fill="#f02800"/><rect x="266.11" y="64.11" width="10.27" height="2.06" fill="#b01000"/><rect x="378.56" y="64.11" width="10.27" height="2.06" fill="#5a0000"/><rect x="215.00" y="66.12" width="10.27" height="2.06" fill="#ff7a10"/><rect x="225.22" y="66.12" width="10.27" height="2.06" fill="#f02800"/><rect x="235.44" y="66.12" width="10.27" height="2.06" fill="#d81800"/><rect x="245.67" y="66.12" width="10.27" height="2.06" fill="#5a0000"/><rect x="255.89" y="66.12" width="10.27" height="2.06" fill="#f02800"/><rect x="266.11" y="66.12" width="10.27" height="2.06" fill="#b01000"/><rect x="378.56" y="66.12" width="10.27" height="2.06" fill="#5a0000"/><rect x="215.00" y="68.12" width="10.27" height="2.06" fill="#ff4a00"/><rect x="225.22" y="68.12" width="10.27" height="2.06" fill="#ff4a00"/><rect x="235.44" y="68.12" width="10.27" height="2.06" fill="#d81800"/><rect x="245.67" y="68.12" width="10.27" height="2.06" fill="#b01000"/><rect x="255.89" y="68.12" width="10.27" height="2.06" fill="#f02800"/><rect x="266.11" y="68.12" width="10.27" height="2.06" fill="#b01000"/><rect x="378.56" y="68.12" width="10.27" height="2.06" fill="#5a0000"/><rect x="215.00" y="70.13" width="10.27" height="2.06" fill="#f02800"/><rect x="225.22" y="70.13" width="10.27" height="2.06" fill="#f02800"/><rect x="235.44" y="70.13" width="10.27" height="2.06" fill="#f02800"/><rect x="245.67" y="70.13" width="10.27" height="2.06" fill="#d81800"/><rect x="255.89" y="70.13" width="10.27" height="2.06" fill="#f02800"/><rect x="266.11" y="70.13" width="10.27" height="2.06" fill="#d81800"/><rect x="347.89" y="70.13" width="10.27" height="2.06" fill="#300000"/><rect x="215.00" y="72.14" width="10.27" height="2.06" fill="#f02800"/><rect x="225.22" y="72.14" width="10.27" height="2.06" fill="#f02800"/><rect x="235.44" y="72.14" width="10.27" height="2.06" fill="#d81800"/><rect x="245.67" y="72.14" width="10.27" height="2.06" fill="#f02800"/><rect x="255.89" y="72.14" width="10.27" height="2.06" fill="#ff4a00"/><rect x="266.11" y="72.14" width="10.27" height="2.06" fill="#d81800"/><rect x="358.11" y="72.14" width="10.27" height="2.06" fill="#300000"/><rect x="215.00" y="74.14" width="10.27" height="2.06" fill="#f02800"/><rect x="225.22" y="74.14" width="10.27" height="2.06" fill="#f02800"/><rect x="235.44" y="74.14" width="10.27" height="2.06" fill="#b01000"/><rect x="245.67" y="74.14" width="10.27" height="2.06" fill="#d81800"/><rect x="255.89" y="74.14" width="10.27" height="2.06" fill="#f02800"/><rect x="266.11" y="74.14" width="10.27" height="2.06" fill="#f02800"/><rect x="215.00" y="76.15" width="10.27" height="2.06" fill="#f02800"/><rect x="225.22" y="76.15" width="10.27" height="2.06" fill="#f02800"/><rect x="235.44" y="76.15" width="10.27" height="2.06" fill="#300000"/><rect x="245.67" y="76.15" width="10.27" height="2.06" fill="#d81800"/><rect x="255.89" y="76.15" width="10.27" height="2.06" fill="#f02800"/><rect x="266.11" y="76.15" width="10.27" height="2.06" fill="#f02800"/><rect x="347.89" y="76.15" width="10.27" height="2.06" fill="#5a0000"/><rect x="358.11" y="76.15" width="10.27" height="2.06" fill="#5a0000"/><rect x="368.33" y="76.15" width="10.27" height="2.06" fill="#5a0000"/><rect x="378.56" y="76.15" width="10.27" height="2.06" fill="#5a0000"/><rect x="388.78" y="76.15" width="10.27" height="2.06" fill="#300000"/><rect x="215.00" y="78.15" width="10.27" height="2.06" fill="#d81800"/><rect x="225.22" y="78.15" width="10.27" height="2.06" fill="#f02800"/><rect x="235.44" y="78.15" width="10.27" height="2.06" fill="#300000"/><rect x="245.67" y="78.15" width="10.27" height="2.06" fill="#5a0000"/><rect x="255.89" y="78.15" width="10.27" height="2.06" fill="#d81800"/><rect x="266.11" y="78.15" width="10.27" height="2.06" fill="#d81800"/><rect x="347.89" y="78.15" width="10.27" height="2.06" fill="#d81800"/><rect x="358.11" y="78.15" width="10.27" height="2.06" fill="#b01000"/><rect x="368.33" y="78.15" width="10.27" height="2.06" fill="#5a0000"/><rect x="378.56" y="78.15" width="10.27" height="2.06" fill="#5a0000"/><rect x="388.78" y="78.15" width="10.27" height="2.06" fill="#300000"/><rect x="215.00" y="80.16" width="10.27" height="2.06" fill="#f02800"/><rect x="225.22" y="80.16" width="10.27" height="2.06" fill="#d81800"/><rect x="235.44" y="80.16" width="10.27" height="2.06" fill="#5a0000"/><rect x="245.67" y="80.16" width="10.27" height="2.06" fill="#d81800"/><rect x="255.89" y="80.16" width="10.27" height="2.06" fill="#d81800"/><rect x="266.11" y="80.16" width="10.27" height="2.06" fill="#d81800"/><rect x="347.89" y="80.16" width="10.27" height="2.06" fill="#300000"/><rect x="358.11" y="80.16" width="10.27" height="2.06" fill="#300000"/><rect x="378.56" y="80.16" width="10.27" height="2.06" fill="#300000"/><rect x="388.78" y="80.16" width="10.27" height="2.06" fill="#300000"/><rect x="215.00" y="82.17" width="10.27" height="2.06" fill="#ff4a00"/><rect x="225.22" y="82.17" width="10.27" height="2.06" fill="#b01000"/><rect x="235.44" y="82.17" width="10.27" height="2.06" fill="#b01000"/><rect x="245.67" y="82.17" width="10.27" height="2.06" fill="#8a0a00"/><rect x="255.89" y="82.17" width="10.27" height="2.06" fill="#8a0a00"/><rect x="266.11" y="82.17" width="10.27" height="2.06" fill="#8a0a00"/><rect x="378.56" y="82.17" width="10.27" height="2.06" fill="#b01000"/><rect x="388.78" y="82.17" width="10.27" height="2.06" fill="#b01000"/><rect x="215.00" y="84.17" width="10.27" height="2.06" fill="#ff4a00"/><rect x="225.22" y="84.17" width="10.27" height="2.06" fill="#8a0a00"/><rect x="235.44" y="84.17" width="10.27" height="2.06" fill="#ff7a10"/><rect x="245.67" y="84.17" width="10.27" height="2.06" fill="#f02800"/><rect x="255.89" y="84.17" width="10.27" height="2.06" fill="#b01000"/><rect x="266.11" y="84.17" width="10.27" height="2.06" fill="#b01000"/><rect x="378.56" y="84.17" width="10.27" height="2.06" fill="#300000"/><rect x="388.78" y="84.17" width="10.27" height="2.06" fill="#300000"/><rect x="215.00" y="86.18" width="10.27" height="2.06" fill="#f02800"/><rect x="225.22" y="86.18" width="10.27" height="2.06" fill="#d81800"/><rect x="235.44" y="86.18" width="10.27" height="2.06" fill="#ff7a10"/><rect x="245.67" y="86.18" width="10.27" height="2.06" fill="#ff4a00"/><rect x="255.89" y="86.18" width="10.27" height="2.06" fill="#f02800"/><rect x="266.11" y="86.18" width="10.27" height="2.06" fill="#f02800"/><rect x="215.00" y="88.18" width="10.27" height="2.06" fill="#d81800"/><rect x="225.22" y="88.18" width="10.27" height="2.06" fill="#b01000"/><rect x="235.44" y="88.18" width="10.27" height="2.06" fill="#8a0a00"/><rect x="245.67" y="88.18" width="10.27" height="2.06" fill="#ff7a10"/><rect x="255.89" y="88.18" width="10.27" height="2.06" fill="#f02800"/><rect x="266.11" y="88.18" width="10.27" height="2.06" fill="#d81800"/><rect x="378.56" y="88.18" width="10.27" height="2.06" fill="#300000"/><rect x="388.78" y="88.18" width="10.27" height="2.06" fill="#300000"/><rect x="215.00" y="90.19" width="10.27" height="2.06" fill="#b01000"/><rect x="225.22" y="90.19" width="10.27" height="2.06" fill="#8a0a00"/><rect x="235.44" y="90.19" width="10.27" height="2.06" fill="#ffa820"/><rect x="245.67" y="90.19" width="10.27" height="2.06" fill="#b01000"/><rect x="255.89" y="90.19" width="10.27" height="2.06" fill="#8a0a00"/><rect x="266.11" y="90.19" width="10.27" height="2.06" fill="#8a0a00"/><rect x="337.67" y="90.19" width="10.27" height="2.06" fill="#300000"/><rect x="347.89" y="90.19" width="10.27" height="2.06" fill="#300000"/><rect x="358.11" y="90.19" width="10.27" height="2.06" fill="#300000"/><rect x="368.33" y="90.19" width="10.27" height="2.06" fill="#300000"/><rect x="378.56" y="90.19" width="10.27" height="2.06" fill="#5a0000"/><rect x="388.78" y="90.19" width="10.27" height="2.06" fill="#ff4a00"/><rect x="215.00" y="92.20" width="10.27" height="2.06" fill="#8a0a00"/><rect x="225.22" y="92.20" width="10.27" height="2.06" fill="#b01000"/><rect x="235.44" y="92.20" width="10.27" height="2.06" fill="#5a0000"/><rect x="245.67" y="92.20" width="10.27" height="2.06" fill="#300000"/><rect x="255.89" y="92.20" width="10.27" height="2.06" fill="#5a0000"/><rect x="266.11" y="92.20" width="10.27" height="2.06" fill="#5a0000"/><rect x="337.67" y="92.20" width="10.27" height="2.06" fill="#b01000"/><rect x="347.89" y="92.20" width="10.27" height="2.06" fill="#ff4a00"/><rect x="358.11" y="92.20" width="10.27" height="2.06" fill="#f02800"/><rect x="368.33" y="92.20" width="10.27" height="2.06" fill="#f02800"/><rect x="378.56" y="92.20" width="10.27" height="2.06" fill="#b01000"/><rect x="388.78" y="92.20" width="10.27" height="2.06" fill="#8a0a00"/><rect x="215.00" y="94.20" width="10.27" height="2.06" fill="#5a0000"/><rect x="225.22" y="94.20" width="10.27" height="2.06" fill="#b01000"/><rect x="235.44" y="94.20" width="10.27" height="2.06" fill="#300000"/><rect x="245.67" y="94.20" width="10.27" height="2.06" fill="#8a0a00"/><rect x="255.89" y="94.20" width="10.27" height="2.06" fill="#d81800"/><rect x="266.11" y="94.20" width="10.27" height="2.06" fill="#5a0000"/><rect x="337.67" y="94.20" width="10.27" height="2.06" fill="#5a0000"/><rect x="347.89" y="94.20" width="10.27" height="2.06" fill="#8a0a00"/><rect x="358.11" y="94.20" width="10.27" height="2.06" fill="#8a0a00"/><rect x="368.33" y="94.20" width="10.27" height="2.06" fill="#5a0000"/><rect x="378.56" y="94.20" width="10.27" height="2.06" fill="#5a0000"/><rect x="388.78" y="94.20" width="10.27" height="2.06" fill="#d81800"/><rect x="215.00" y="96.21" width="10.27" height="2.06" fill="#8a0a00"/><rect x="225.22" y="96.21" width="10.27" height="2.06" fill="#8a0a00"/><rect x="235.44" y="96.21" width="10.27" height="2.06" fill="#f02800"/><rect x="245.67" y="96.21" width="10.27" height="2.06" fill="#d81800"/><rect x="255.89" y="96.21" width="10.27" height="2.06" fill="#b01000"/><rect x="266.11" y="96.21" width="10.27" height="2.06" fill="#8a0a00"/><rect x="347.89" y="96.21" width="10.27" height="2.06" fill="#300000"/><rect x="358.11" y="96.21" width="10.27" height="2.06" fill="#300000"/><rect x="368.33" y="96.21" width="10.27" height="2.06" fill="#300000"/><rect x="378.56" y="96.21" width="10.27" height="2.06" fill="#5a0000"/><rect x="388.78" y="96.21" width="10.27" height="2.06" fill="#d81800"/><rect x="276.33" y="98.21" width="10.27" height="2.06" fill="#8a0a00"/><rect x="286.56" y="98.21" width="10.27" height="2.06" fill="#8a0a00"/><rect x="296.78" y="98.21" width="10.27" height="2.06" fill="#8a0a00"/><rect x="307.00" y="98.21" width="10.27" height="2.06" fill="#8a0a00"/><rect x="317.22" y="98.21" width="10.27" height="2.06" fill="#8a0a00"/><rect x="327.44" y="98.21" width="10.27" height="2.06" fill="#8a0a00"/><rect x="337.67" y="98.21" width="10.27" height="2.06" fill="#300000"/><rect x="347.89" y="98.21" width="10.27" height="2.06" fill="#300000"/><rect x="358.11" y="98.21" width="10.27" height="2.06" fill="#300000"/><rect x="368.33" y="98.21" width="10.27" height="2.06" fill="#5a0000"/><rect x="378.56" y="98.21" width="10.27" height="2.06" fill="#300000"/><rect x="388.78" y="98.21" width="10.27" height="2.06" fill="#8a0a00"/><rect x="296.78" y="100.22" width="10.27" height="2.06" fill="#300000"/><rect x="307.00" y="100.22" width="10.27" height="2.06" fill="#300000"/><rect x="317.22" y="100.22" width="10.27" height="2.06" fill="#300000"/><rect x="327.44" y="100.22" width="10.27" height="2.06" fill="#300000"/><rect x="337.67" y="100.22" width="10.27" height="2.06" fill="#8a0a00"/><rect x="347.89" y="100.22" width="10.27" height="2.06" fill="#ff7a10"/><rect x="358.11" y="100.22" width="10.27" height="2.06" fill="#f02800"/><rect x="368.33" y="100.22" width="10.27" height="2.06" fill="#ff4a00"/><rect x="378.56" y="100.22" width="10.27" height="2.06" fill="#5a0000"/><rect x="388.78" y="100.22" width="10.27" height="2.06" fill="#300000"/><rect x="296.78" y="102.23" width="10.27" height="2.06" fill="#b01000"/><rect x="327.44" y="102.23" width="10.27" height="2.06" fill="#300000"/><rect x="337.67" y="102.23" width="10.27" height="2.06" fill="#8a0a00"/><rect x="347.89" y="102.23" width="10.27" height="2.06" fill="#ffe040"/><rect x="358.11" y="102.23" width="10.27" height="2.06" fill="#ff4a00"/><rect x="368.33" y="102.23" width="10.27" height="2.06" fill="#f02800"/><rect x="378.56" y="102.23" width="10.27" height="2.06" fill="#8a0a00"/><rect x="388.78" y="102.23" width="10.27" height="2.06" fill="#300000"/><rect x="296.78" y="104.23" width="10.27" height="2.06" fill="#300000"/><rect x="307.00" y="104.23" width="10.27" height="2.06" fill="#300000"/><rect x="327.44" y="104.23" width="10.27" height="2.06" fill="#8a0a00"/><rect x="337.67" y="104.23" width="10.27" height="2.06" fill="#5a0000"/><rect x="347.89" y="104.23" width="10.27" height="2.06" fill="#ffa820"/><rect x="358.11" y="104.23" width="10.27" height="2.06" fill="#f02800"/><rect x="368.33" y="104.23" width="10.27" height="2.06" fill="#d81800"/><rect x="378.56" y="104.23" width="10.27" height="2.06" fill="#8a0a00"/><rect x="388.78" y="104.23" width="10.27" height="2.06" fill="#300000"/><rect x="296.78" y="106.24" width="10.27" height="2.06" fill="#b01000"/><rect x="307.00" y="106.24" width="10.27" height="2.06" fill="#300000"/><rect x="327.44" y="106.24" width="10.27" height="2.06" fill="#5a0000"/><rect x="337.67" y="106.24" width="10.27" height="2.06" fill="#8a0a00"/><rect x="347.89" y="106.24" width="10.27" height="2.06" fill="#ff7a10"/><rect x="358.11" y="106.24" width="10.27" height="2.06" fill="#f02800"/><rect x="368.33" y="106.24" width="10.27" height="2.06" fill="#d81800"/><rect x="378.56" y="106.24" width="10.27" height="2.06" fill="#8a0a00"/><rect x="388.78" y="106.24" width="10.27" height="2.06" fill="#5a0000"/><rect x="296.78" y="108.24" width="10.27" height="2.06" fill="#300000"/><rect x="307.00" y="108.24" width="10.27" height="2.06" fill="#8a0a00"/><rect x="327.44" y="108.24" width="10.27" height="2.06" fill="#5a0000"/><rect x="337.67" y="108.24" width="10.27" height="2.06" fill="#8a0a00"/><rect x="347.89" y="108.24" width="10.27" height="2.06" fill="#ff4a00"/><rect x="358.11" y="108.24" width="10.27" height="2.06" fill="#f02800"/><rect x="368.33" y="108.24" width="10.27" height="2.06" fill="#d81800"/><rect x="378.56" y="108.24" width="10.27" height="2.06" fill="#8a0a00"/><rect x="388.78" y="108.24" width="10.27" height="2.06" fill="#5a0000"/><rect x="215.00" y="110.25" width="10.27" height="2.06" fill="#300000"/><rect x="225.22" y="110.25" width="10.27" height="2.06" fill="#300000"/><rect x="235.44" y="110.25" width="10.27" height="2.06" fill="#300000"/><rect x="296.78" y="110.25" width="10.27" height="2.06" fill="#8a0a00"/><rect x="307.00" y="110.25" width="10.27" height="2.06" fill="#5a0000"/><rect x="327.44" y="110.25" width="10.27" height="2.06" fill="#5a0000"/><rect x="337.67" y="110.25" width="10.27" height="2.06" fill="#5a0000"/><rect x="347.89" y="110.25" width="10.27" height="2.06" fill="#ff7a10"/><rect x="358.11" y="110.25" width="10.27" height="2.06" fill="#f02800"/><rect x="368.33" y="110.25" width="10.27" height="2.06" fill="#d81800"/><rect x="378.56" y="110.25" width="10.27" height="2.06" fill="#5a0000"/><rect x="388.78" y="110.25" width="10.27" height="2.06" fill="#300000"/><rect x="296.78" y="112.26" width="10.27" height="2.06" fill="#300000"/><rect x="307.00" y="112.26" width="10.27" height="2.06" fill="#300000"/><rect x="317.22" y="112.26" width="10.27" height="2.06" fill="#300000"/><rect x="327.44" y="112.26" width="10.27" height="2.06" fill="#300000"/><rect x="337.67" y="112.26" width="10.27" height="2.06" fill="#8a0a00"/><rect x="347.89" y="112.26" width="10.27" height="2.06" fill="#ff4a00"/><rect x="358.11" y="112.26" width="10.27" height="2.06" fill="#f02800"/><rect x="368.33" y="112.26" width="10.27" height="2.06" fill="#ff4a00"/><rect x="378.56" y="112.26" width="10.27" height="2.06" fill="#ff4a00"/><rect x="388.78" y="112.26" width="10.27" height="2.06" fill="#d81800"/><rect x="276.33" y="114.26" width="10.27" height="2.06" fill="#300000"/><rect x="286.56" y="114.26" width="10.27" height="2.06" fill="#300000"/><rect x="296.78" y="114.26" width="10.27" height="2.06" fill="#8a0a00"/><rect x="307.00" y="114.26" width="10.27" height="2.06" fill="#5a0000"/><rect x="317.22" y="114.26" width="10.27" height="2.06" fill="#b01000"/><rect x="327.44" y="114.26" width="10.27" height="2.06" fill="#8a0a00"/><rect x="337.67" y="114.26" width="10.27" height="2.06" fill="#5a0000"/><rect x="347.89" y="114.26" width="10.27" height="2.06" fill="#f02800"/><rect x="358.11" y="114.26" width="10.27" height="2.06" fill="#d81800"/><rect x="368.33" y="114.26" width="10.27" height="2.06" fill="#8a0a00"/><rect x="378.56" y="114.26" width="10.27" height="2.06" fill="#f02800"/><rect x="388.78" y="114.26" width="10.27" height="2.06" fill="#5a0000"/><rect x="276.33" y="116.27" width="10.27" height="2.06" fill="#8a0a00"/><rect x="286.56" y="116.27" width="10.27" height="2.06" fill="#8a0a00"/><rect x="296.78" y="116.27" width="10.27" height="2.06" fill="#ff7a10"/><rect x="307.00" y="116.27" width="10.27" height="2.06" fill="#ff4a00"/><rect x="317.22" y="116.27" width="10.27" height="2.06" fill="#300000"/><rect x="327.44" y="116.27" width="10.27" height="2.06" fill="#8a0a00"/><rect x="337.67" y="116.27" width="10.27" height="2.06" fill="#8a0a00"/><rect x="347.89" y="116.27" width="10.27" height="2.06" fill="#ff4a00"/><rect x="358.11" y="116.27" width="10.27" height="2.06" fill="#b01000"/><rect x="368.33" y="116.27" width="10.27" height="2.06" fill="#8a0a00"/><rect x="378.56" y="116.27" width="10.27" height="2.06" fill="#d81800"/><rect x="388.78" y="116.27" width="10.27" height="2.06" fill="#300000"/><rect x="276.33" y="118.27" width="10.27" height="2.06" fill="#300000"/><rect x="286.56" y="118.27" width="10.27" height="2.06" fill="#300000"/><rect x="296.78" y="118.27" width="10.27" height="2.06" fill="#ff7a10"/><rect x="307.00" y="118.27" width="10.27" height="2.06" fill="#ff4a00"/><rect x="317.22" y="118.27" width="10.27" height="2.06" fill="#300000"/><rect x="327.44" y="118.27" width="10.27" height="2.06" fill="#300000"/><rect x="337.67" y="118.27" width="10.27" height="2.06" fill="#300000"/><rect x="347.89" y="118.27" width="10.27" height="2.06" fill="#8a0a00"/><rect x="358.11" y="118.27" width="10.27" height="2.06" fill="#8a0a00"/><rect x="368.33" y="118.27" width="10.27" height="2.06" fill="#5a0000"/><rect x="378.56" y="118.27" width="10.27" height="2.06" fill="#300000"/><rect x="388.78" y="118.27" width="10.27" height="2.06" fill="#300000"/><rect x="276.33" y="120.28" width="10.27" height="2.06" fill="#5a0000"/><rect x="286.56" y="120.28" width="10.27" height="2.06" fill="#5a0000"/><rect x="296.78" y="120.28" width="10.27" height="2.06" fill="#f02800"/><rect x="307.00" y="120.28" width="10.27" height="2.06" fill="#d81800"/><rect x="317.22" y="120.28" width="10.27" height="2.06" fill="#b01000"/><rect x="327.44" y="120.28" width="10.27" height="2.06" fill="#300000"/><rect x="337.67" y="120.28" width="10.27" height="2.06" fill="#300000"/><rect x="347.89" y="120.28" width="10.27" height="2.06" fill="#b01000"/><rect x="358.11" y="120.28" width="10.27" height="2.06" fill="#8a0a00"/><rect x="368.33" y="120.28" width="10.27" height="2.06" fill="#5a0000"/><rect x="378.56" y="120.28" width="10.27" height="2.06" fill="#300000"/><rect x="388.78" y="120.28" width="10.27" height="2.06" fill="#300000"/><rect x="276.33" y="122.29" width="10.27" height="2.06" fill="#d81800"/><rect x="286.56" y="122.29" width="10.27" height="2.06" fill="#f02800"/><rect x="296.78" y="122.29" width="10.27" height="2.06" fill="#f02800"/><rect x="307.00" y="122.29" width="10.27" height="2.06" fill="#f02800"/><rect x="317.22" y="122.29" width="10.27" height="2.06" fill="#8a0a00"/><rect x="327.44" y="122.29" width="10.27" height="2.06" fill="#8a0a00"/><rect x="337.67" y="122.29" width="10.27" height="2.06" fill="#300000"/><rect x="347.89" y="122.29" width="10.27" height="2.06" fill="#8a0a00"/><rect x="358.11" y="122.29" width="10.27" height="2.06" fill="#8a0a00"/><rect x="368.33" y="122.29" width="10.27" height="2.06" fill="#5a0000"/><rect x="378.56" y="122.29" width="10.27" height="2.06" fill="#300000"/><rect x="388.78" y="122.29" width="10.27" height="2.06" fill="#300000"/><rect x="276.33" y="124.29" width="10.27" height="2.06" fill="#5a0000"/><rect x="286.56" y="124.29" width="10.27" height="2.06" fill="#5a0000"/><rect x="296.78" y="124.29" width="10.27" height="2.06" fill="#8a0a00"/><rect x="307.00" y="124.29" width="10.27" height="2.06" fill="#8a0a00"/><rect x="317.22" y="124.29" width="10.27" height="2.06" fill="#b01000"/><rect x="327.44" y="124.29" width="10.27" height="2.06" fill="#b01000"/><rect x="337.67" y="124.29" width="10.27" height="2.06" fill="#300000"/><rect x="347.89" y="124.29" width="10.27" height="2.06" fill="#5a0000"/><rect x="358.11" y="124.29" width="10.27" height="2.06" fill="#5a0000"/><rect x="368.33" y="124.29" width="10.27" height="2.06" fill="#300000"/><rect x="378.56" y="124.29" width="10.27" height="2.06" fill="#b01000"/><rect x="388.78" y="124.29" width="10.27" height="2.06" fill="#b01000"/><rect x="276.33" y="126.30" width="10.27" height="2.06" fill="#8a0a00"/><rect x="286.56" y="126.30" width="10.27" height="2.06" fill="#5a0000"/><rect x="296.78" y="126.30" width="10.27" height="2.06" fill="#d81800"/><rect x="307.00" y="126.30" width="10.27" height="2.06" fill="#300000"/><rect x="317.22" y="126.30" width="10.27" height="2.06" fill="#ff7a10"/><rect x="327.44" y="126.30" width="10.27" height="2.06" fill="#ff4a00"/><rect x="347.89" y="126.30" width="10.27" height="2.06" fill="#300000"/><rect x="358.11" y="126.30" width="10.27" height="2.06" fill="#300000"/><rect x="378.56" y="126.30" width="10.27" height="2.06" fill="#5a0000"/><rect x="388.78" y="126.30" width="10.27" height="2.06" fill="#5a0000"/><rect x="276.33" y="128.30" width="10.27" height="2.06" fill="#b01000"/><rect x="286.56" y="128.30" width="10.27" height="2.06" fill="#8a0a00"/><rect x="296.78" y="128.30" width="10.27" height="2.06" fill="#8a0a00"/><rect x="307.00" y="128.30" width="10.27" height="2.06" fill="#5a0000"/><rect x="317.22" y="128.30" width="10.27" height="2.06" fill="#f02800"/><rect x="327.44" y="128.30" width="10.27" height="2.06" fill="#f02800"/><rect x="337.67" y="128.30" width="10.27" height="2.06" fill="#5a0000"/><rect x="347.89" y="128.30" width="10.27" height="2.06" fill="#300000"/><rect x="358.11" y="128.30" width="10.27" height="2.06" fill="#300000"/><rect x="378.56" y="128.30" width="10.27" height="2.06" fill="#b01000"/><rect x="388.78" y="128.30" width="10.27" height="2.06" fill="#f02800"/><rect x="276.33" y="130.31" width="10.27" height="2.06" fill="#5a0000"/><rect x="286.56" y="130.31" width="10.27" height="2.06" fill="#d81800"/><rect x="296.78" y="130.31" width="10.27" height="2.06" fill="#8a0a00"/><rect x="307.00" y="130.31" width="10.27" height="2.06" fill="#b01000"/><rect x="317.22" y="130.31" width="10.27" height="2.06" fill="#ff7a10"/><rect x="327.44" y="130.31" width="10.27" height="2.06" fill="#ffa820"/><rect x="337.67" y="130.31" width="10.27" height="2.06" fill="#300000"/><rect x="347.89" y="130.31" width="10.27" height="2.06" fill="#300000"/><rect x="358.11" y="130.31" width="10.27" height="2.06" fill="#300000"/><rect x="378.56" y="130.31" width="10.27" height="2.06" fill="#300000"/><rect x="388.78" y="130.31" width="10.27" height="2.06" fill="#300000"/><rect x="276.33" y="132.32" width="10.27" height="2.06" fill="#8a0a00"/><rect x="286.56" y="132.32" width="10.27" height="2.06" fill="#d81800"/><rect x="296.78" y="132.32" width="10.27" height="2.06" fill="#b01000"/><rect x="307.00" y="132.32" width="10.27" height="2.06" fill="#d81800"/><rect x="317.22" y="132.32" width="10.27" height="2.06" fill="#ff7a10"/><rect x="327.44" y="132.32" width="10.27" height="2.06" fill="#ffa820"/><rect x="347.89" y="132.32" width="10.27" height="2.06" fill="#300000"/><rect x="358.11" y="132.32" width="10.27" height="2.06" fill="#300000"/><rect x="378.56" y="132.32" width="10.27" height="2.06" fill="#300000"/><rect x="388.78" y="132.32" width="10.27" height="2.06" fill="#5a0000"/><rect x="276.33" y="134.32" width="10.27" height="2.06" fill="#d81800"/><rect x="286.56" y="134.32" width="10.27" height="2.06" fill="#f02800"/><rect x="296.78" y="134.32" width="10.27" height="2.06" fill="#f02800"/><rect x="307.00" y="134.32" width="10.27" height="2.06" fill="#f02800"/><rect x="317.22" y="134.32" width="10.27" height="2.06" fill="#d81800"/><rect x="327.44" y="134.32" width="10.27" height="2.06" fill="#f02800"/><rect x="276.33" y="136.33" width="10.27" height="2.06" fill="#d81800"/><rect x="286.56" y="136.33" width="10.27" height="2.06" fill="#d81800"/><rect x="296.78" y="136.33" width="10.27" height="2.06" fill="#d81800"/><rect x="307.00" y="136.33" width="10.27" height="2.06" fill="#f02800"/><rect x="317.22" y="136.33" width="10.27" height="2.06" fill="#f02800"/><rect x="327.44" y="136.33" width="10.27" height="2.06" fill="#ff4a00"/><rect x="347.89" y="136.33" width="10.27" height="2.06" fill="#300000"/><rect x="276.33" y="138.33" width="10.27" height="2.06" fill="#5a0000"/><rect x="286.56" y="138.33" width="10.27" height="2.06" fill="#b01000"/><rect x="296.78" y="138.33" width="10.27" height="2.06" fill="#8a0a00"/><rect x="307.00" y="138.33" width="10.27" height="2.06" fill="#d81800"/><rect x="317.22" y="138.33" width="10.27" height="2.06" fill="#b01000"/><rect x="327.44" y="138.33" width="10.27" height="2.06" fill="#f02800"/><rect x="347.89" y="138.33" width="10.27" height="2.06" fill="#5a0000"/><rect x="358.11" y="138.33" width="10.27" height="2.06" fill="#5a0000"/><rect x="368.33" y="138.33" width="10.27" height="2.06" fill="#5a0000"/><rect x="378.56" y="138.33" width="10.27" height="2.06" fill="#300000"/><rect x="276.33" y="140.34" width="10.27" height="2.06" fill="#8a0a00"/><rect x="286.56" y="140.34" width="10.27" height="2.06" fill="#5a0000"/><rect x="296.78" y="140.34" width="10.27" height="2.06" fill="#b01000"/><rect x="307.00" y="140.34" width="10.27" height="2.06" fill="#b01000"/><rect x="317.22" y="140.34" width="10.27" height="2.06" fill="#d81800"/><rect x="327.44" y="140.34" width="10.27" height="2.06" fill="#d81800"/><rect x="337.67" y="140.34" width="10.27" height="2.06" fill="#300000"/><rect x="347.89" y="140.34" width="10.27" height="2.06" fill="#5a0000"/><rect x="358.11" y="140.34" width="10.27" height="2.06" fill="#8a0a00"/><rect x="368.33" y="140.34" width="10.27" height="2.06" fill="#300000"/><rect x="378.56" y="140.34" width="10.27" height="2.06" fill="#8a0a00"/><rect x="388.78" y="140.34" width="10.27" height="2.06" fill="#5a0000"/><rect x="276.33" y="142.35" width="10.27" height="2.06" fill="#5a0000"/><rect x="286.56" y="142.35" width="10.27" height="2.06" fill="#5a0000"/><rect x="296.78" y="142.35" width="10.27" height="2.06" fill="#b01000"/><rect x="307.00" y="142.35" width="10.27" height="2.06" fill="#f02800"/><rect x="317.22" y="142.35" width="10.27" height="2.06" fill="#8a0a00"/><rect x="327.44" y="142.35" width="10.27" height="2.06" fill="#8a0a00"/><rect x="337.67" y="142.35" width="10.27" height="2.06" fill="#300000"/><rect x="347.89" y="142.35" width="10.27" height="2.06" fill="#d81800"/><rect x="358.11" y="142.35" width="10.27" height="2.06" fill="#b01000"/><rect x="368.33" y="142.35" width="10.27" height="2.06" fill="#8a0a00"/><rect x="378.56" y="142.35" width="10.27" height="2.06" fill="#5a0000"/><rect x="388.78" y="142.35" width="10.27" height="2.06" fill="#300000"/><rect x="276.33" y="144.35" width="10.27" height="2.06" fill="#8a0a00"/><rect x="286.56" y="144.35" width="10.27" height="2.06" fill="#b01000"/><rect x="296.78" y="144.35" width="10.27" height="2.06" fill="#f02800"/><rect x="307.00" y="144.35" width="10.27" height="2.06" fill="#f02800"/><rect x="317.22" y="144.35" width="10.27" height="2.06" fill="#5a0000"/><rect x="327.44" y="144.35" width="10.27" height="2.06" fill="#300000"/><rect x="347.89" y="144.35" width="10.27" height="2.06" fill="#d81800"/><rect x="358.11" y="144.35" width="10.27" height="2.06" fill="#b01000"/><rect x="368.33" y="144.35" width="10.27" height="2.06" fill="#b01000"/><rect x="378.56" y="144.35" width="10.27" height="2.06" fill="#300000"/><rect x="388.78" y="144.35" width="10.27" height="2.06" fill="#300000"/><rect x="276.33" y="146.36" width="10.27" height="2.06" fill="#b01000"/><rect x="286.56" y="146.36" width="10.27" height="2.06" fill="#5a0000"/><rect x="296.78" y="146.36" width="10.27" height="2.06" fill="#f02800"/><rect x="307.00" y="146.36" width="10.27" height="2.06" fill="#f02800"/><rect x="317.22" y="146.36" width="10.27" height="2.06" fill="#d81800"/><rect x="327.44" y="146.36" width="10.27" height="2.06" fill="#5a0000"/><rect x="337.67" y="146.36" width="10.27" height="2.06" fill="#300000"/><rect x="347.89" y="146.36" width="10.27" height="2.06" fill="#d81800"/><rect x="358.11" y="146.36" width="10.27" height="2.06" fill="#b01000"/><rect x="368.33" y="146.36" width="10.27" height="2.06" fill="#8a0a00"/><rect x="378.56" y="146.36" width="10.27" height="2.06" fill="#5a0000"/><rect x="388.78" y="146.36" width="10.27" height="2.06" fill="#300000"/><rect x="276.33" y="148.36" width="10.27" height="2.06" fill="#b01000"/><rect x="286.56" y="148.36" width="10.27" height="2.06" fill="#8a0a00"/><rect x="296.78" y="148.36" width="10.27" height="2.06" fill="#ff4a00"/><rect x="307.00" y="148.36" width="10.27" height="2.06" fill="#f02800"/><rect x="317.22" y="148.36" width="10.27" height="2.06" fill="#d81800"/><rect x="327.44" y="148.36" width="10.27" height="2.06" fill="#b01000"/><rect x="337.67" y="148.36" width="10.27" height="2.06" fill="#300000"/><rect x="347.89" y="148.36" width="10.27" height="2.06" fill="#b01000"/><rect x="358.11" y="148.36" width="10.27" height="2.06" fill="#8a0a00"/><rect x="368.33" y="148.36" width="10.27" height="2.06" fill="#5a0000"/><rect x="378.56" y="148.36" width="10.27" height="2.06" fill="#300000"/><rect x="276.33" y="150.37" width="10.27" height="2.06" fill="#8a0a00"/><rect x="286.56" y="150.37" width="10.27" height="2.06" fill="#8a0a00"/><rect x="296.78" y="150.37" width="10.27" height="2.06" fill="#f02800"/><rect x="307.00" y="150.37" width="10.27" height="2.06" fill="#f02800"/><rect x="317.22" y="150.37" width="10.27" height="2.06" fill="#d81800"/><rect x="327.44" y="150.37" width="10.27" height="2.06" fill="#b01000"/><rect x="337.67" y="150.37" width="10.27" height="2.06" fill="#300000"/><rect x="347.89" y="150.37" width="10.27" height="2.06" fill="#b01000"/><rect x="358.11" y="150.37" width="10.27" height="2.06" fill="#5a0000"/><rect x="368.33" y="150.37" width="10.27" height="2.06" fill="#8a0a00"/><rect x="378.56" y="150.37" width="10.27" height="2.06" fill="#300000"/><rect x="276.33" y="152.38" width="10.27" height="2.06" fill="#b01000"/><rect x="286.56" y="152.38" width="10.27" height="2.06" fill="#b01000"/><rect x="296.78" y="152.38" width="10.27" height="2.06" fill="#f02800"/><rect x="307.00" y="152.38" width="10.27" height="2.06" fill="#f02800"/><rect x="317.22" y="152.38" width="10.27" height="2.06" fill="#d81800"/><rect x="327.44" y="152.38" width="10.27" height="2.06" fill="#8a0a00"/><rect x="337.67" y="152.38" width="10.27" height="2.06" fill="#300000"/><rect x="347.89" y="152.38" width="10.27" height="2.06" fill="#8a0a00"/><rect x="358.11" y="152.38" width="10.27" height="2.06" fill="#8a0a00"/><rect x="368.33" y="152.38" width="10.27" height="2.06" fill="#5a0000"/><rect x="378.56" y="152.38" width="10.27" height="2.06" fill="#300000"/><rect x="276.33" y="154.38" width="10.27" height="2.06" fill="#b01000"/><rect x="286.56" y="154.38" width="10.27" height="2.06" fill="#8a0a00"/><rect x="296.78" y="154.38" width="10.27" height="2.06" fill="#f02800"/><rect x="307.00" y="154.38" width="10.27" height="2.06" fill="#d81800"/><rect x="317.22" y="154.38" width="10.27" height="2.06" fill="#8a0a00"/><rect x="327.44" y="154.38" width="10.27" height="2.06" fill="#5a0000"/><rect x="337.67" y="154.38" width="10.27" height="2.06" fill="#300000"/><rect x="347.89" y="154.38" width="10.27" height="2.06" fill="#8a0a00"/><rect x="358.11" y="154.38" width="10.27" height="2.06" fill="#5a0000"/><rect x="368.33" y="154.38" width="10.27" height="2.06" fill="#8a0a00"/><rect x="378.56" y="154.38" width="10.27" height="2.06" fill="#300000"/><rect x="276.33" y="156.39" width="10.27" height="2.06" fill="#b01000"/><rect x="286.56" y="156.39" width="10.27" height="2.06" fill="#b01000"/><rect x="296.78" y="156.39" width="10.27" height="2.06" fill="#f02800"/><rect x="307.00" y="156.39" width="10.27" height="2.06" fill="#f02800"/><rect x="317.22" y="156.39" width="10.27" height="2.06" fill="#b01000"/><rect x="327.44" y="156.39" width="10.27" height="2.06" fill="#8a0a00"/><rect x="337.67" y="156.39" width="10.27" height="2.06" fill="#300000"/><rect x="347.89" y="156.39" width="10.27" height="2.06" fill="#8a0a00"/><rect x="358.11" y="156.39" width="10.27" height="2.06" fill="#8a0a00"/><rect x="368.33" y="156.39" width="10.27" height="2.06" fill="#8a0a00"/><rect x="378.56" y="156.39" width="10.27" height="2.06" fill="#300000"/><rect x="276.33" y="158.39" width="10.27" height="2.06" fill="#b01000"/><rect x="286.56" y="158.39" width="10.27" height="2.06" fill="#b01000"/><rect x="296.78" y="158.39" width="10.27" height="2.06" fill="#f02800"/><rect x="307.00" y="158.39" width="10.27" height="2.06" fill="#f02800"/><rect x="317.22" y="158.39" width="10.27" height="2.06" fill="#d81800"/><rect x="327.44" y="158.39" width="10.27" height="2.06" fill="#f02800"/><rect x="337.67" y="158.39" width="10.27" height="2.06" fill="#300000"/><rect x="347.89" y="158.39" width="10.27" height="2.06" fill="#8a0a00"/><rect x="358.11" y="158.39" width="10.27" height="2.06" fill="#5a0000"/><rect x="368.33" y="158.39" width="10.27" height="2.06" fill="#5a0000"/><rect x="378.56" y="158.39" width="10.27" height="2.06" fill="#300000"/><rect x="276.33" y="160.40" width="10.27" height="2.06" fill="#d81800"/><rect x="286.56" y="160.40" width="10.27" height="2.06" fill="#d81800"/><rect x="296.78" y="160.40" width="10.27" height="2.06" fill="#ff4a00"/><rect x="307.00" y="160.40" width="10.27" height="2.06" fill="#d81800"/><rect x="317.22" y="160.40" width="10.27" height="2.06" fill="#d81800"/><rect x="327.44" y="160.40" width="10.27" height="2.06" fill="#b01000"/><rect x="337.67" y="160.40" width="10.27" height="2.06" fill="#300000"/><rect x="347.89" y="160.40" width="10.27" height="2.06" fill="#8a0a00"/><rect x="358.11" y="160.40" width="10.27" height="2.06" fill="#8a0a00"/><rect x="368.33" y="160.40" width="10.27" height="2.06" fill="#5a0000"/><rect x="378.56" y="160.40" width="10.27" height="2.06" fill="#300000"/><rect x="276.33" y="162.40" width="10.27" height="2.06" fill="#b01000"/><rect x="286.56" y="162.40" width="10.27" height="2.06" fill="#d81800"/><rect x="296.78" y="162.40" width="10.27" height="2.06" fill="#f02800"/><rect x="307.00" y="162.40" width="10.27" height="2.06" fill="#f02800"/><rect x="317.22" y="162.40" width="10.27" height="2.06" fill="#d81800"/><rect x="327.44" y="162.40" width="10.27" height="2.06" fill="#b01000"/><rect x="337.67" y="162.40" width="10.27" height="2.06" fill="#300000"/><rect x="347.89" y="162.40" width="10.27" height="2.06" fill="#8a0a00"/><rect x="358.11" y="162.40" width="10.27" height="2.06" fill="#5a0000"/><rect x="368.33" y="162.40" width="10.27" height="2.06" fill="#5a0000"/><rect x="378.56" y="162.40" width="10.27" height="2.06" fill="#300000"/><rect x="276.33" y="164.41" width="10.27" height="2.06" fill="#8a0a00"/><rect x="286.56" y="164.41" width="10.27" height="2.06" fill="#d81800"/><rect x="296.78" y="164.41" width="10.27" height="2.06" fill="#f02800"/><rect x="307.00" y="164.41" width="10.27" height="2.06" fill="#ff4a00"/><rect x="317.22" y="164.41" width="10.27" height="2.06" fill="#b01000"/><rect x="327.44" y="164.41" width="10.27" height="2.06" fill="#5a0000"/><rect x="337.67" y="164.41" width="10.27" height="2.06" fill="#300000"/><rect x="347.89" y="164.41" width="10.27" height="2.06" fill="#b01000"/><rect x="358.11" y="164.41" width="10.27" height="2.06" fill="#8a0a00"/><rect x="368.33" y="164.41" width="10.27" height="2.06" fill="#8a0a00"/><rect x="378.56" y="164.41" width="10.27" height="2.06" fill="#300000"/><rect x="276.33" y="166.42" width="10.27" height="2.06" fill="#b01000"/><rect x="286.56" y="166.42" width="10.27" height="2.06" fill="#5a0000"/><rect x="296.78" y="166.42" width="10.27" height="2.06" fill="#f02800"/><rect x="307.00" y="166.42" width="10.27" height="2.06" fill="#d81800"/><rect x="317.22" y="166.42" width="10.27" height="2.06" fill="#d81800"/><rect x="327.44" y="166.42" width="10.27" height="2.06" fill="#8a0a00"/><rect x="337.67" y="166.42" width="10.27" height="2.06" fill="#300000"/><rect x="347.89" y="166.42" width="10.27" height="2.06" fill="#8a0a00"/><rect x="358.11" y="166.42" width="10.27" height="2.06" fill="#5a0000"/><rect x="368.33" y="166.42" width="10.27" height="2.06" fill="#8a0a00"/><rect x="378.56" y="166.42" width="10.27" height="2.06" fill="#5a0000"/><rect x="276.33" y="168.42" width="10.27" height="2.06" fill="#8a0a00"/><rect x="286.56" y="168.42" width="10.27" height="2.06" fill="#5a0000"/><rect x="296.78" y="168.42" width="10.27" height="2.06" fill="#f02800"/><rect x="307.00" y="168.42" width="10.27" height="2.06" fill="#b01000"/><rect x="317.22" y="168.42" width="10.27" height="2.06" fill="#8a0a00"/><rect x="327.44" y="168.42" width="10.27" height="2.06" fill="#8a0a00"/><rect x="337.67" y="168.42" width="10.27" height="2.06" fill="#300000"/><rect x="347.89" y="168.42" width="10.27" height="2.06" fill="#b01000"/><rect x="358.11" y="168.42" width="10.27" height="2.06" fill="#8a0a00"/><rect x="368.33" y="168.42" width="10.27" height="2.06" fill="#8a0a00"/><rect x="378.56" y="168.42" width="10.27" height="2.06" fill="#5a0000"/><rect x="276.33" y="170.43" width="10.27" height="2.06" fill="#b01000"/><rect x="286.56" y="170.43" width="10.27" height="2.06" fill="#b01000"/><rect x="296.78" y="170.43" width="10.27" height="2.06" fill="#f02800"/><rect x="307.00" y="170.43" width="10.27" height="2.06" fill="#d81800"/><rect x="317.22" y="170.43" width="10.27" height="2.06" fill="#d81800"/><rect x="327.44" y="170.43" width="10.27" height="2.06" fill="#d81800"/><rect x="337.67" y="170.43" width="10.27" height="2.06" fill="#300000"/><rect x="347.89" y="170.43" width="10.27" height="2.06" fill="#b01000"/><rect x="358.11" y="170.43" width="10.27" height="2.06" fill="#8a0a00"/><rect x="368.33" y="170.43" width="10.27" height="2.06" fill="#8a0a00"/><rect x="378.56" y="170.43" width="10.27" height="2.06" fill="#5a0000"/><rect x="388.78" y="170.43" width="10.27" height="2.06" fill="#300000"/><rect x="276.33" y="172.43" width="10.27" height="2.06" fill="#8a0a00"/><rect x="286.56" y="172.43" width="10.27" height="2.06" fill="#8a0a00"/><rect x="296.78" y="172.43" width="10.27" height="2.06" fill="#f02800"/><rect x="307.00" y="172.43" width="10.27" height="2.06" fill="#f02800"/><rect x="317.22" y="172.43" width="10.27" height="2.06" fill="#d81800"/><rect x="327.44" y="172.43" width="10.27" height="2.06" fill="#f02800"/><rect x="337.67" y="172.43" width="10.27" height="2.06" fill="#300000"/><rect x="347.89" y="172.43" width="10.27" height="2.06" fill="#b01000"/><rect x="358.11" y="172.43" width="10.27" height="2.06" fill="#8a0a00"/><rect x="368.33" y="172.43" width="10.27" height="2.06" fill="#5a0000"/><rect x="378.56" y="172.43" width="10.27" height="2.06" fill="#300000"/><rect x="388.78" y="172.43" width="10.27" height="2.06" fill="#300000"/><rect x="276.33" y="174.44" width="10.27" height="2.06" fill="#5a0000"/><rect x="286.56" y="174.44" width="10.27" height="2.06" fill="#5a0000"/><rect x="296.78" y="174.44" width="10.27" height="2.06" fill="#f02800"/><rect x="307.00" y="174.44" width="10.27" height="2.06" fill="#8a0a00"/><rect x="317.22" y="174.44" width="10.27" height="2.06" fill="#b01000"/><rect x="327.44" y="174.44" width="10.27" height="2.06" fill="#8a0a00"/><rect x="337.67" y="174.44" width="10.27" height="2.06" fill="#300000"/><rect x="347.89" y="174.44" width="10.27" height="2.06" fill="#f02800"/><rect x="358.11" y="174.44" width="10.27" height="2.06" fill="#8a0a00"/><rect x="368.33" y="174.44" width="10.27" height="2.06" fill="#300000"/><rect x="378.56" y="174.44" width="10.27" height="2.06" fill="#d81800"/><rect x="388.78" y="174.44" width="10.27" height="2.06" fill="#300000"/><rect x="276.33" y="176.45" width="10.27" height="2.06" fill="#300000"/><rect x="286.56" y="176.45" width="10.27" height="2.06" fill="#300000"/><rect x="296.78" y="176.45" width="10.27" height="2.06" fill="#f02800"/><rect x="307.00" y="176.45" width="10.27" height="2.06" fill="#d81800"/><rect x="317.22" y="176.45" width="10.27" height="2.06" fill="#ff4a00"/><rect x="327.44" y="176.45" width="10.27" height="2.06" fill="#b01000"/><rect x="337.67" y="176.45" width="10.27" height="2.06" fill="#300000"/><rect x="347.89" y="176.45" width="10.27" height="2.06" fill="#b01000"/><rect x="358.11" y="176.45" width="10.27" height="2.06" fill="#8a0a00"/><rect x="368.33" y="176.45" width="10.27" height="2.06" fill="#300000"/><rect x="378.56" y="176.45" width="10.27" height="2.06" fill="#300000"/><rect x="276.33" y="178.45" width="10.27" height="2.06" fill="#d81800"/><rect x="286.56" y="178.45" width="10.27" height="2.06" fill="#d81800"/><rect x="296.78" y="178.45" width="10.27" height="2.06" fill="#f02800"/><rect x="307.00" y="178.45" width="10.27" height="2.06" fill="#d81800"/><rect x="317.22" y="178.45" width="10.27" height="2.06" fill="#d81800"/><rect x="327.44" y="178.45" width="10.27" height="2.06" fill="#b01000"/><rect x="337.67" y="178.45" width="10.27" height="2.06" fill="#300000"/><rect x="347.89" y="178.45" width="10.27" height="2.06" fill="#8a0a00"/><rect x="358.11" y="178.45" width="10.27" height="2.06" fill="#8a0a00"/><rect x="368.33" y="178.45" width="10.27" height="2.06" fill="#5a0000"/><rect x="378.56" y="178.45" width="10.27" height="2.06" fill="#300000"/><rect x="276.33" y="180.46" width="10.27" height="2.06" fill="#d81800"/><rect x="286.56" y="180.46" width="10.27" height="2.06" fill="#d81800"/><rect x="296.78" y="180.46" width="10.27" height="2.06" fill="#ff4a00"/><rect x="307.00" y="180.46" width="10.27" height="2.06" fill="#d81800"/><rect x="317.22" y="180.46" width="10.27" height="2.06" fill="#d81800"/><rect x="327.44" y="180.46" width="10.27" height="2.06" fill="#d81800"/><rect x="337.67" y="180.46" width="10.27" height="2.06" fill="#5a0000"/><rect x="347.89" y="180.46" width="10.27" height="2.06" fill="#b01000"/><rect x="358.11" y="180.46" width="10.27" height="2.06" fill="#8a0a00"/><rect x="368.33" y="180.46" width="10.27" height="2.06" fill="#5a0000"/><rect x="378.56" y="180.46" width="10.27" height="2.06" fill="#300000"/><rect x="276.33" y="182.46" width="10.27" height="2.06" fill="#8a0a00"/><rect x="286.56" y="182.46" width="10.27" height="2.06" fill="#8a0a00"/><rect x="296.78" y="182.46" width="10.27" height="2.06" fill="#f02800"/><rect x="307.00" y="182.46" width="10.27" height="2.06" fill="#b01000"/><rect x="317.22" y="182.46" width="10.27" height="2.06" fill="#f02800"/><rect x="327.44" y="182.46" width="10.27" height="2.06" fill="#5a0000"/><rect x="337.67" y="182.46" width="10.27" height="2.06" fill="#5a0000"/><rect x="347.89" y="182.46" width="10.27" height="2.06" fill="#b01000"/><rect x="358.11" y="182.46" width="10.27" height="2.06" fill="#5a0000"/><rect x="368.33" y="182.46" width="10.27" height="2.06" fill="#300000"/><rect x="378.56" y="182.46" width="10.27" height="2.06" fill="#f02800"/><rect x="276.33" y="184.47" width="10.27" height="2.06" fill="#5a0000"/><rect x="286.56" y="184.47" width="10.27" height="2.06" fill="#5a0000"/><rect x="296.78" y="184.47" width="10.27" height="2.06" fill="#f02800"/><rect x="307.00" y="184.47" width="10.27" height="2.06" fill="#300000"/><rect x="317.22" y="184.47" width="10.27" height="2.06" fill="#ffa820"/><rect x="327.44" y="184.47" width="10.27" height="2.06" fill="#8a0a00"/><rect x="337.67" y="184.47" width="10.27" height="2.06" fill="#300000"/><rect x="347.89" y="184.47" width="10.27" height="2.06" fill="#b01000"/><rect x="358.11" y="184.47" width="10.27" height="2.06" fill="#300000"/><rect x="368.33" y="184.47" width="10.27" height="2.06" fill="#300000"/><rect x="378.56" y="184.47" width="10.27" height="2.06" fill="#f02800"/><rect x="276.33" y="186.48" width="10.27" height="2.06" fill="#d81800"/><rect x="286.56" y="186.48" width="10.27" height="2.06" fill="#d81800"/><rect x="296.78" y="186.48" width="10.27" height="2.06" fill="#ff4a00"/><rect x="307.00" y="186.48" width="10.27" height="2.06" fill="#d81800"/><rect x="317.22" y="186.48" width="10.27" height="2.06" fill="#d81800"/><rect x="327.44" y="186.48" width="10.27" height="2.06" fill="#b01000"/><rect x="337.67" y="186.48" width="10.27" height="2.06" fill="#300000"/><rect x="347.89" y="186.48" width="10.27" height="2.06" fill="#8a0a00"/><rect x="358.11" y="186.48" width="10.27" height="2.06" fill="#5a0000"/><rect x="368.33" y="186.48" width="10.27" height="2.06" fill="#300000"/><rect x="378.56" y="186.48" width="10.27" height="2.06" fill="#300000"/><rect x="276.33" y="188.48" width="10.27" height="2.06" fill="#f02800"/><rect x="286.56" y="188.48" width="10.27" height="2.06" fill="#d81800"/><rect x="296.78" y="188.48" width="10.27" height="2.06" fill="#ff4a00"/><rect x="307.00" y="188.48" width="10.27" height="2.06" fill="#f02800"/><rect x="317.22" y="188.48" width="10.27" height="2.06" fill="#f02800"/><rect x="327.44" y="188.48" width="10.27" height="2.06" fill="#b01000"/><rect x="337.67" y="188.48" width="10.27" height="2.06" fill="#300000"/><rect x="347.89" y="188.48" width="10.27" height="2.06" fill="#8a0a00"/><rect x="358.11" y="188.48" width="10.27" height="2.06" fill="#5a0000"/><rect x="368.33" y="188.48" width="10.27" height="2.06" fill="#300000"/><rect x="378.56" y="188.48" width="10.27" height="2.06" fill="#300000"/><rect x="276.33" y="190.49" width="10.27" height="2.06" fill="#d81800"/><rect x="286.56" y="190.49" width="10.27" height="2.06" fill="#5a0000"/><rect x="296.78" y="190.49" width="10.27" height="2.06" fill="#f02800"/><rect x="307.00" y="190.49" width="10.27" height="2.06" fill="#ff4a00"/><rect x="317.22" y="190.49" width="10.27" height="2.06" fill="#d81800"/><rect x="327.44" y="190.49" width="10.27" height="2.06" fill="#8a0a00"/><rect x="337.67" y="190.49" width="10.27" height="2.06" fill="#300000"/><rect x="347.89" y="190.49" width="10.27" height="2.06" fill="#8a0a00"/><rect x="358.11" y="190.49" width="10.27" height="2.06" fill="#5a0000"/><rect x="368.33" y="190.49" width="10.27" height="2.06" fill="#300000"/><rect x="378.56" y="190.49" width="10.27" height="2.06" fill="#5a0000"/><rect x="276.33" y="192.49" width="10.27" height="2.06" fill="#d81800"/><rect x="286.56" y="192.49" width="10.27" height="2.06" fill="#5a0000"/><rect x="296.78" y="192.49" width="10.27" height="2.06" fill="#ff4a00"/><rect x="307.00" y="192.49" width="10.27" height="2.06" fill="#f02800"/><rect x="317.22" y="192.49" width="10.27" height="2.06" fill="#d81800"/><rect x="327.44" y="192.49" width="10.27" height="2.06" fill="#b01000"/><rect x="337.67" y="192.49" width="10.27" height="2.06" fill="#300000"/><rect x="347.89" y="192.49" width="10.27" height="2.06" fill="#8a0a00"/><rect x="358.11" y="192.49" width="10.27" height="2.06" fill="#5a0000"/><rect x="368.33" y="192.49" width="10.27" height="2.06" fill="#300000"/><rect x="378.56" y="192.49" width="10.27" height="2.06" fill="#5a0000"/></g>
<defs><linearGradient id="ck" x1="0" x2="1" y1="0" y2="0"><stop offset="0" stop-color="#000"/><stop offset="0.18" stop-color="#0a0000"/><stop offset="0.3" stop-color="#400000"/><stop offset="0.42" stop-color="#a00000"/><stop offset="0.53" stop-color="#e01000"/><stop offset="0.66" stop-color="#ff4010"/><stop offset="0.79" stop-color="#ff8020"/><stop offset="0.9" stop-color="#f2c030"/><stop offset="1" stop-color="#eeee10"/></linearGradient></defs>
<rect x="260.6" y="197.6" width="92.9" height="4.1" fill="url(#ck)" stroke="#222" stroke-width="0.5"/>
<text x="260.00" y="206.00" font-size="2.7" fill="#333" text-anchor="middle" font-weight="normal" stroke="#333" stroke-width="0.1" >&lt;0.4</text>
<text x="277.50" y="206.00" font-size="2.7" fill="#333" text-anchor="middle" font-weight="normal" stroke="#333" stroke-width="0.1" >0.6</text>
<text x="287.75" y="206.00" font-size="2.7" fill="#333" text-anchor="middle" font-weight="normal" stroke="#333" stroke-width="0.1" >0.8</text>
<text x="298.00" y="206.00" font-size="2.7" fill="#333" text-anchor="middle" font-weight="normal" stroke="#333" stroke-width="0.1" >1</text>
<text x="308.75" y="206.00" font-size="2.7" fill="#333" text-anchor="middle" font-weight="normal" stroke="#333" stroke-width="0.1" >1.2</text>
<text x="319.40" y="206.00" font-size="2.7" fill="#333" text-anchor="middle" font-weight="normal" stroke="#333" stroke-width="0.1" >1.4</text>
<text x="329.75" y="206.00" font-size="2.7" fill="#333" text-anchor="middle" font-weight="normal" stroke="#333" stroke-width="0.1" >1.6</text>
<text x="339.75" y="206.00" font-size="2.7" fill="#333" text-anchor="middle" font-weight="normal" stroke="#333" stroke-width="0.1" >1.8</text>
<text x="352.50" y="206.00" font-size="2.7" fill="#333" text-anchor="middle" font-weight="normal" stroke="#333" stroke-width="0.1" >&gt;2</text>
<text x="59.50" y="219.80" font-size="8.0" fill="#111" text-anchor="start" font-weight="bold" >C</text>
<defs><clipPath id="cg"><ellipse cx="96.9" cy="251.4" rx="27" ry="29.5" /></clipPath><clipPath id="cb"><ellipse cx="133.1" cy="251.4" rx="27" ry="29.5" /></clipPath></defs>
<ellipse cx="96.9" cy="251.4" rx="27" ry="29.5" fill="#a0e28f"/>
<ellipse cx="133.1" cy="251.4" rx="27" ry="29.5" fill="#96c4fa"/>
<ellipse cx="115" cy="288.7" rx="27.1" ry="29.5" fill="#f9928a"/>
<g clip-path="url(#cg)"><ellipse cx="133.1" cy="251.4" rx="27" ry="29.5" fill="#6fc0d6"/></g>
<g clip-path="url(#cg)"><ellipse cx="115" cy="288.7" rx="27.1" ry="29.5" fill="#e08c5c"/></g>
<g clip-path="url(#cb)"><ellipse cx="115" cy="288.7" rx="27.1" ry="29.5" fill="#d7708e"/></g>
<g clip-path="url(#cb)"><g clip-path="url(#cg)"><ellipse cx="115" cy="288.7" rx="27.1" ry="29.5" fill="#bf6a76"/></g></g>
<ellipse cx="96.9" cy="251.4" rx="27" ry="29.5" fill="none" stroke="#3a5535" stroke-width="0.8"/>
<ellipse cx="133.1" cy="251.4" rx="27" ry="29.5" fill="none" stroke="#2c3a5c" stroke-width="0.8"/>
<ellipse cx="115" cy="288.7" rx="27.1" ry="29.5" fill="none" stroke="#5e2a2c" stroke-width="0.8"/>
<text x="92.50" y="250.25" font-size="2.7" fill="#333" text-anchor="middle" font-weight="normal" stroke="#333" stroke-width="0.1" >406</text>
<text x="92.50" y="254.65" font-size="2.7" fill="#333" text-anchor="middle" font-weight="normal" stroke="#333" stroke-width="0.1" >(31.8%)</text>
<text x="114.50" y="244.75" font-size="2.7" fill="#333" text-anchor="middle" font-weight="normal" stroke="#333" stroke-width="0.1" >108</text>
<text x="114.50" y="249.15" font-size="2.7" fill="#333" text-anchor="middle" font-weight="normal" stroke="#333" stroke-width="0.1" >(8.5%)</text>
<text x="135.00" y="250.25" font-size="2.7" fill="#333" text-anchor="middle" font-weight="normal" stroke="#333" stroke-width="0.1" >104</text>
<text x="135.00" y="254.65" font-size="2.7" fill="#333" text-anchor="middle" font-weight="normal" stroke="#333" stroke-width="0.1" >(8.2%)</text>
<text x="115.00" y="262.75" font-size="2.7" fill="#333" text-anchor="middle" font-weight="normal" stroke="#333" stroke-width="0.1" >11</text>
<text x="115.00" y="267.15" font-size="2.7" fill="#333" text-anchor="middle" font-weight="normal" stroke="#333" stroke-width="0.1" >(0.9%)</text>
<text x="101.25" y="269.00" font-size="2.7" fill="#333" text-anchor="middle" font-weight="normal" stroke="#333" stroke-width="0.1" >71</text>
<text x="101.25" y="273.40" font-size="2.7" fill="#333" text-anchor="middle" font-weight="normal" stroke="#333" stroke-width="0.1" >(5.6%)</text>
<text x="128.75" y="269.00" font-size="2.7" fill="#333" text-anchor="middle" font-weight="normal" stroke="#333" stroke-width="0.1" >189</text>
<text x="128.75" y="273.40" font-size="2.7" fill="#333" text-anchor="middle" font-weight="normal" stroke="#333" stroke-width="0.1" >(14.8%)</text>
<text x="115.00" y="287.75" font-size="2.7" fill="#333" text-anchor="middle" font-weight="normal" stroke="#333" stroke-width="0.1" >386</text>
<text x="115.00" y="292.15" font-size="2.7" fill="#333" text-anchor="middle" font-weight="normal" stroke="#333" stroke-width="0.1" >(30.3%)</text>
<text x="93.50" y="216.60" font-size="4.3" fill="#2a2a2a" text-anchor="middle" font-weight="normal" stroke="#2a2a2a" stroke-width="0.12" >Naive</text>
<text x="136.80" y="216.60" font-size="4.3" fill="#2a2a2a" text-anchor="middle" font-weight="normal" stroke="#2a2a2a" stroke-width="0.12" >Intermediate</text>
<text x="115.10" y="327.20" font-size="4.3" fill="#2a2a2a" text-anchor="middle" font-weight="normal" stroke="#2a2a2a" stroke-width="0.12" >Terminally</text>
<text x="206.30" y="219.70" font-size="8.0" fill="#111" text-anchor="start" font-weight="bold" >D</text>
<line x1="222" y1="277.34" x2="351.5" y2="277.34" stroke="#e6e6e6" stroke-width="0.7"/>
<line x1="222" y1="253.68" x2="351.5" y2="253.68" stroke="#e6e6e6" stroke-width="0.7"/>
<line x1="222" y1="230.02" x2="351.5" y2="230.02" stroke="#e6e6e6" stroke-width="0.7"/>
<text x="219.60" y="302.00" font-size="2.7" fill="#555" text-anchor="end" font-weight="normal" stroke="#555" stroke-width="0.1" >0</text>
<line x1="220.1" y1="301.00" x2="222" y2="301.00" stroke="#bbb" stroke-width="0.5"/>
<text x="219.60" y="278.34" font-size="2.7" fill="#555" text-anchor="end" font-weight="normal" stroke="#555" stroke-width="0.1" >200</text>
<line x1="220.1" y1="277.34" x2="222" y2="277.34" stroke="#bbb" stroke-width="0.5"/>
<text x="219.60" y="254.68" font-size="2.7" fill="#555" text-anchor="end" font-weight="normal" stroke="#555" stroke-width="0.1" >400</text>
<line x1="220.1" y1="253.68" x2="222" y2="253.68" stroke="#bbb" stroke-width="0.5"/>
<text x="219.60" y="231.02" font-size="2.7" fill="#555" text-anchor="end" font-weight="normal" stroke="#555" stroke-width="0.1" >600</text>
<line x1="220.1" y1="230.02" x2="222" y2="230.02" stroke="#bbb" stroke-width="0.5"/>
<rect x="230.0" y="232.98" width="17.70" height="68.02" fill="#f8766d"/>
<text x="238.85" y="239.28" font-size="5.3" fill="#fff" text-anchor="middle" font-weight="normal" >575</text>
<rect x="247.7" y="242.44" width="17.70" height="58.56" fill="#00ba38"/>
<text x="256.55" y="248.74" font-size="5.3" fill="#fff" text-anchor="middle" font-weight="normal" >495</text>
<rect x="265.4" y="274.26" width="17.60" height="26.74" fill="#619cff"/>
<text x="274.20" y="280.56" font-size="5.3" fill="#fff" text-anchor="middle" font-weight="normal" >226</text>
<rect x="289.5" y="217.13" width="17.60" height="83.87" fill="#f8766d"/>
<text x="298.30" y="223.43" font-size="5.3" fill="#fff" text-anchor="middle" font-weight="normal" >709</text>
<rect x="307.1" y="228.60" width="17.60" height="72.40" fill="#00ba38"/>
<text x="315.90" y="234.90" font-size="5.3" fill="#fff" text-anchor="middle" font-weight="normal" >612</text>
<rect x="324.7" y="268.23" width="17.60" height="32.77" fill="#619cff"/>
<text x="333.50" y="274.53" font-size="5.3" fill="#fff" text-anchor="middle" font-weight="normal" >277</text>
<text x="0" y="0" font-size="3.1" fill="#333" stroke="#333" stroke-width="0.1" text-anchor="middle" transform="translate(213.6,252.5) rotate(-90)">Genes</text>
<line x1="256.5" y1="301" x2="256.5" y2="302.5" stroke="#888" stroke-width="0.5"/>
<line x1="316" y1="301" x2="316" y2="302.5" stroke="#888" stroke-width="0.5"/>
<text x="256.30" y="309.70" font-size="2.7" fill="#555" text-anchor="middle" font-weight="normal" stroke="#555" stroke-width="0.1" >Naive</text>
<text x="316.00" y="309.70" font-size="2.7" fill="#555" text-anchor="middle" font-weight="normal" stroke="#555" stroke-width="0.1" >Terminally</text>
<rect x="264.1" y="321.0" width="4.6" height="4.7" fill="#f8766d"/>
<text x="270.40" y="324.30" font-size="2.7" fill="#444" text-anchor="start" font-weight="normal" stroke="#444" stroke-width="0.1" >Pig</text>
<rect x="277.2" y="321.0" width="4.6" height="4.7" fill="#00ba38"/>
<text x="283.50" y="324.30" font-size="2.7" fill="#444" text-anchor="start" font-weight="normal" stroke="#444" stroke-width="0.1" >Human</text>
<rect x="294.9" y="321.0" width="4.6" height="4.7" fill="#619cff"/>
<text x="301.20" y="324.30" font-size="2.7" fill="#444" text-anchor="start" font-weight="normal" stroke="#444" stroke-width="0.1" >Mouse</text></svg>
</body></html>
